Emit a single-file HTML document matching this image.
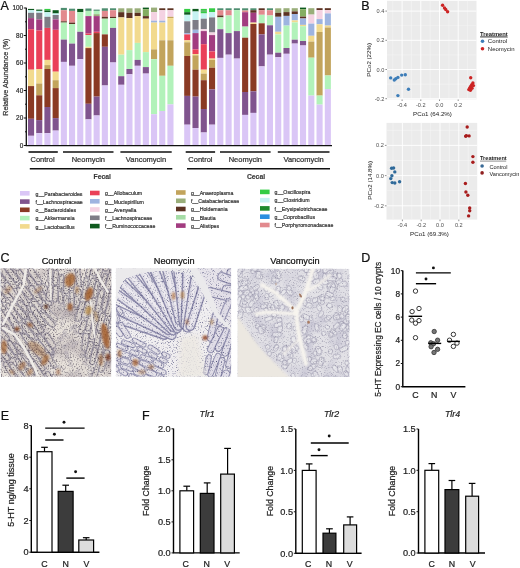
<!DOCTYPE html>
<html><head><meta charset="utf-8"><style>
html,body{margin:0;padding:0;background:#fff;}
svg{display:block;font-family:'Liberation Sans', Arial, sans-serif;}
</style></head><body>
<svg width="520" height="568" viewBox="0 0 520 568">
<rect width="520" height="568" fill="#fff"/>
<g id="panelA">
<rect x="28.00" y="8.90" width="6.1" height="1.30" fill="#0e5a1e"/>
<rect x="28.00" y="10.20" width="6.1" height="2.60" fill="#c6f2f2"/>
<rect x="28.00" y="12.80" width="6.1" height="5.30" fill="#7e7c86"/>
<rect x="28.00" y="18.10" width="6.1" height="11.10" fill="#a23c80"/>
<rect x="28.00" y="29.20" width="6.1" height="40.50" fill="#ea4058"/>
<rect x="28.00" y="69.70" width="6.1" height="16.40" fill="#f2da8e"/>
<rect x="28.00" y="86.10" width="6.1" height="32.70" fill="#8a3a24"/>
<rect x="28.00" y="118.80" width="6.1" height="17.00" fill="#80548e"/>
<rect x="28.00" y="135.80" width="6.1" height="9.20" fill="#dac6f6"/>
<rect x="36.20" y="9.60" width="6.1" height="1.30" fill="#0e5a1e"/>
<rect x="36.20" y="10.90" width="6.1" height="1.90" fill="#c6f2f2"/>
<rect x="36.20" y="12.80" width="6.1" height="6.60" fill="#7e7c86"/>
<rect x="36.20" y="19.40" width="6.1" height="11.10" fill="#a23c80"/>
<rect x="36.20" y="30.50" width="6.1" height="38.50" fill="#ea4058"/>
<rect x="36.20" y="69.00" width="6.1" height="14.50" fill="#f2da8e"/>
<rect x="36.20" y="83.50" width="6.1" height="11.80" fill="#c2a45c"/>
<rect x="36.20" y="95.30" width="6.1" height="24.80" fill="#8a3a24"/>
<rect x="36.20" y="120.10" width="6.1" height="13.10" fill="#80548e"/>
<rect x="36.20" y="133.20" width="6.1" height="11.80" fill="#dac6f6"/>
<rect x="44.40" y="8.90" width="6.1" height="1.60" fill="#34cc44"/>
<rect x="44.40" y="10.50" width="6.1" height="1.70" fill="#0e5a1e"/>
<rect x="44.40" y="12.20" width="6.1" height="4.60" fill="#c6f2f2"/>
<rect x="44.40" y="16.80" width="6.1" height="11.10" fill="#7e7c86"/>
<rect x="44.40" y="27.90" width="6.1" height="32.00" fill="#ea4058"/>
<rect x="44.40" y="59.90" width="6.1" height="5.20" fill="#f2da8e"/>
<rect x="44.40" y="65.10" width="6.1" height="3.90" fill="#c2a45c"/>
<rect x="44.40" y="69.00" width="6.1" height="38.00" fill="#8a3a24"/>
<rect x="44.40" y="107.00" width="6.1" height="26.20" fill="#80548e"/>
<rect x="44.40" y="133.20" width="6.1" height="11.80" fill="#dac6f6"/>
<rect x="52.60" y="10.20" width="6.1" height="3.30" fill="#0e5a1e"/>
<rect x="52.60" y="13.50" width="6.1" height="1.50" fill="#c6f2f2"/>
<rect x="52.60" y="15.00" width="6.1" height="4.40" fill="#7e7c86"/>
<rect x="52.60" y="19.40" width="6.1" height="10.40" fill="#a23c80"/>
<rect x="52.60" y="29.80" width="6.1" height="41.90" fill="#ea4058"/>
<rect x="52.60" y="71.70" width="6.1" height="8.50" fill="#f2da8e"/>
<rect x="52.60" y="80.20" width="6.1" height="7.90" fill="#c2a45c"/>
<rect x="52.60" y="88.10" width="6.1" height="30.00" fill="#8a3a24"/>
<rect x="52.60" y="118.10" width="6.1" height="12.50" fill="#80548e"/>
<rect x="52.60" y="130.60" width="6.1" height="14.40" fill="#dac6f6"/>
<rect x="60.80" y="7.90" width="6.1" height="2.30" fill="#4e8e70"/>
<rect x="60.80" y="10.20" width="6.1" height="11.10" fill="#e28a8e"/>
<rect x="60.80" y="21.30" width="6.1" height="1.30" fill="#5c3222"/>
<rect x="60.80" y="22.60" width="6.1" height="17.00" fill="#b2f2ba"/>
<rect x="60.80" y="39.60" width="6.1" height="22.30" fill="#80548e"/>
<rect x="60.80" y="61.90" width="6.1" height="83.10" fill="#dac6f6"/>
<rect x="69.00" y="8.70" width="6.1" height="2.20" fill="#4e8e70"/>
<rect x="69.00" y="10.90" width="6.1" height="11.70" fill="#e28a8e"/>
<rect x="69.00" y="22.60" width="6.1" height="1.40" fill="#5c3222"/>
<rect x="69.00" y="24.00" width="6.1" height="19.60" fill="#b2f2ba"/>
<rect x="69.00" y="43.60" width="6.1" height="22.20" fill="#80548e"/>
<rect x="69.00" y="65.80" width="6.1" height="79.20" fill="#dac6f6"/>
<rect x="77.20" y="8.90" width="6.1" height="3.30" fill="#0e5a1e"/>
<rect x="77.20" y="12.20" width="6.1" height="19.60" fill="#b2f2ba"/>
<rect x="77.20" y="31.80" width="6.1" height="27.40" fill="#80548e"/>
<rect x="77.20" y="59.20" width="6.1" height="85.80" fill="#dac6f6"/>
<rect x="85.40" y="8.50" width="6.1" height="2.40" fill="#4e8e70"/>
<rect x="85.40" y="10.90" width="6.1" height="5.20" fill="#b2f2ba"/>
<rect x="85.40" y="16.10" width="6.1" height="17.40" fill="#a23c80"/>
<rect x="85.40" y="33.50" width="6.1" height="1.60" fill="#ea4058"/>
<rect x="85.40" y="35.10" width="6.1" height="11.70" fill="#b2f2ba"/>
<rect x="85.40" y="46.80" width="6.1" height="1.30" fill="#f2da8e"/>
<rect x="85.40" y="48.10" width="6.1" height="55.70" fill="#8a3a24"/>
<rect x="85.40" y="103.80" width="6.1" height="15.60" fill="#80548e"/>
<rect x="85.40" y="119.40" width="6.1" height="25.60" fill="#dac6f6"/>
<rect x="93.60" y="9.60" width="6.1" height="1.30" fill="#4e8e70"/>
<rect x="93.60" y="10.90" width="6.1" height="3.30" fill="#b2f2ba"/>
<rect x="93.60" y="14.20" width="6.1" height="1.90" fill="#9aae7a"/>
<rect x="93.60" y="16.10" width="6.1" height="15.70" fill="#a23c80"/>
<rect x="93.60" y="31.80" width="6.1" height="1.30" fill="#ea4058"/>
<rect x="93.60" y="33.10" width="6.1" height="63.50" fill="#8a3a24"/>
<rect x="93.60" y="96.60" width="6.1" height="18.90" fill="#80548e"/>
<rect x="93.60" y="115.50" width="6.1" height="29.50" fill="#dac6f6"/>
<rect x="101.80" y="8.30" width="6.1" height="2.60" fill="#4e8e70"/>
<rect x="101.80" y="10.90" width="6.1" height="5.90" fill="#e28a8e"/>
<rect x="101.80" y="16.80" width="6.1" height="1.90" fill="#5c3222"/>
<rect x="101.80" y="18.70" width="6.1" height="15.70" fill="#b2f2ba"/>
<rect x="101.80" y="34.40" width="6.1" height="12.40" fill="#8a3a24"/>
<rect x="101.80" y="46.80" width="6.1" height="38.70" fill="#80548e"/>
<rect x="101.80" y="85.50" width="6.1" height="59.50" fill="#dac6f6"/>
<rect x="110.00" y="8.30" width="6.1" height="1.90" fill="#4e8e70"/>
<rect x="110.00" y="10.20" width="6.1" height="6.60" fill="#e28a8e"/>
<rect x="110.00" y="16.80" width="6.1" height="1.30" fill="#5c3222"/>
<rect x="110.00" y="18.10" width="6.1" height="9.80" fill="#b2f2ba"/>
<rect x="110.00" y="27.90" width="6.1" height="34.60" fill="#80548e"/>
<rect x="110.00" y="62.50" width="6.1" height="82.50" fill="#dac6f6"/>
<rect x="118.20" y="8.30" width="6.1" height="3.90" fill="#9aae7a"/>
<rect x="118.20" y="12.20" width="6.1" height="5.20" fill="#5c3222"/>
<rect x="118.20" y="17.40" width="6.1" height="37.30" fill="#f2da8e"/>
<rect x="118.20" y="54.70" width="6.1" height="21.50" fill="#b2f2ba"/>
<rect x="118.20" y="76.20" width="6.1" height="8.60" fill="#80548e"/>
<rect x="118.20" y="84.80" width="6.1" height="60.20" fill="#dac6f6"/>
<rect x="126.40" y="8.30" width="6.1" height="4.50" fill="#9aae7a"/>
<rect x="126.40" y="12.80" width="6.1" height="5.30" fill="#5c3222"/>
<rect x="126.40" y="18.10" width="6.1" height="32.00" fill="#f2da8e"/>
<rect x="126.40" y="50.10" width="6.1" height="18.90" fill="#b2f2ba"/>
<rect x="126.40" y="69.00" width="6.1" height="5.30" fill="#80548e"/>
<rect x="126.40" y="74.30" width="6.1" height="70.70" fill="#dac6f6"/>
<rect x="134.60" y="8.30" width="6.1" height="4.50" fill="#9aae7a"/>
<rect x="134.60" y="12.80" width="6.1" height="3.30" fill="#5c3222"/>
<rect x="134.60" y="16.10" width="6.1" height="26.80" fill="#f2da8e"/>
<rect x="134.60" y="42.90" width="6.1" height="17.00" fill="#b2f2ba"/>
<rect x="134.60" y="59.90" width="6.1" height="5.90" fill="#80548e"/>
<rect x="134.60" y="65.80" width="6.1" height="79.20" fill="#dac6f6"/>
<rect x="142.80" y="7.60" width="6.1" height="1.60" fill="#0e5a1e"/>
<rect x="142.80" y="9.20" width="6.1" height="6.90" fill="#84ae62"/>
<rect x="142.80" y="16.10" width="6.1" height="2.60" fill="#5c3222"/>
<rect x="142.80" y="18.70" width="6.1" height="33.40" fill="#f2da8e"/>
<rect x="142.80" y="52.10" width="6.1" height="15.00" fill="#b2f2ba"/>
<rect x="142.80" y="67.10" width="6.1" height="6.50" fill="#80548e"/>
<rect x="142.80" y="73.60" width="6.1" height="71.40" fill="#dac6f6"/>
<rect x="151.00" y="7.60" width="6.1" height="4.60" fill="#9aae7a"/>
<rect x="151.00" y="12.20" width="6.1" height="8.50" fill="#f4d2e2"/>
<rect x="151.00" y="20.70" width="6.1" height="1.90" fill="#9eb4e0"/>
<rect x="151.00" y="22.60" width="6.1" height="26.80" fill="#f2da8e"/>
<rect x="151.00" y="49.40" width="6.1" height="9.80" fill="#c2a45c"/>
<rect x="151.00" y="59.20" width="6.1" height="55.00" fill="#b2f2ba"/>
<rect x="151.00" y="114.20" width="6.1" height="30.80" fill="#dac6f6"/>
<rect x="159.20" y="8.30" width="6.1" height="1.90" fill="#5c3222"/>
<rect x="159.20" y="10.20" width="6.1" height="10.50" fill="#f4d2e2"/>
<rect x="159.20" y="20.70" width="6.1" height="1.90" fill="#9eb4e0"/>
<rect x="159.20" y="22.60" width="6.1" height="17.70" fill="#f2da8e"/>
<rect x="159.20" y="40.30" width="6.1" height="35.50" fill="#c2a45c"/>
<rect x="159.20" y="75.80" width="6.1" height="35.20" fill="#b2f2ba"/>
<rect x="159.20" y="111.00" width="6.1" height="34.00" fill="#dac6f6"/>
<rect x="167.40" y="8.30" width="6.1" height="1.90" fill="#5c3222"/>
<rect x="167.40" y="10.20" width="6.1" height="6.60" fill="#f4d2e2"/>
<rect x="167.40" y="16.80" width="6.1" height="1.30" fill="#c2a45c"/>
<rect x="167.40" y="18.10" width="6.1" height="22.20" fill="#f2da8e"/>
<rect x="167.40" y="40.30" width="6.1" height="25.50" fill="#c2a45c"/>
<rect x="167.40" y="65.80" width="6.1" height="38.60" fill="#b2f2ba"/>
<rect x="167.40" y="104.40" width="6.1" height="40.60" fill="#dac6f6"/>
<rect x="184.20" y="8.90" width="6.1" height="3.30" fill="#34cc44"/>
<rect x="184.20" y="12.20" width="6.1" height="2.60" fill="#0e5a1e"/>
<rect x="184.20" y="14.80" width="6.1" height="6.50" fill="#c6f2f2"/>
<rect x="184.20" y="21.30" width="6.1" height="11.80" fill="#7e7c86"/>
<rect x="184.20" y="33.10" width="6.1" height="1.30" fill="#9eb4e0"/>
<rect x="184.20" y="34.40" width="6.1" height="5.90" fill="#ea4058"/>
<rect x="184.20" y="40.30" width="6.1" height="2.00" fill="#f2da8e"/>
<rect x="184.20" y="42.30" width="6.1" height="13.70" fill="#c2a45c"/>
<rect x="184.20" y="56.00" width="6.1" height="39.90" fill="#8a3a24"/>
<rect x="184.20" y="95.90" width="6.1" height="28.80" fill="#80548e"/>
<rect x="184.20" y="124.70" width="6.1" height="20.30" fill="#dac6f6"/>
<rect x="192.47" y="8.90" width="6.1" height="2.60" fill="#0e5a1e"/>
<rect x="192.47" y="11.50" width="6.1" height="8.50" fill="#c6f2f2"/>
<rect x="192.47" y="20.00" width="6.1" height="9.80" fill="#7e7c86"/>
<rect x="192.47" y="29.80" width="6.1" height="3.30" fill="#9eb4e0"/>
<rect x="192.47" y="33.10" width="6.1" height="16.30" fill="#a23c80"/>
<rect x="192.47" y="49.40" width="6.1" height="4.60" fill="#ea4058"/>
<rect x="192.47" y="54.00" width="6.1" height="1.30" fill="#f2da8e"/>
<rect x="192.47" y="55.30" width="6.1" height="14.40" fill="#c2a45c"/>
<rect x="192.47" y="69.70" width="6.1" height="26.90" fill="#8a3a24"/>
<rect x="192.47" y="96.60" width="6.1" height="31.40" fill="#80548e"/>
<rect x="192.47" y="128.00" width="6.1" height="17.00" fill="#dac6f6"/>
<rect x="200.74" y="8.90" width="6.1" height="1.70" fill="#34cc44"/>
<rect x="200.74" y="10.60" width="6.1" height="1.00" fill="#1e8a2c"/>
<rect x="200.74" y="11.60" width="6.1" height="1.90" fill="#34cc44"/>
<rect x="200.74" y="13.50" width="6.1" height="5.20" fill="#c6f2f2"/>
<rect x="200.74" y="18.70" width="6.1" height="10.50" fill="#7e7c86"/>
<rect x="200.74" y="29.20" width="6.1" height="1.90" fill="#f4d2e2"/>
<rect x="200.74" y="31.10" width="6.1" height="13.10" fill="#a23c80"/>
<rect x="200.74" y="44.20" width="6.1" height="25.50" fill="#ea4058"/>
<rect x="200.74" y="69.70" width="6.1" height="3.90" fill="#f2da8e"/>
<rect x="200.74" y="73.60" width="6.1" height="6.60" fill="#c2a45c"/>
<rect x="200.74" y="80.20" width="6.1" height="28.80" fill="#8a3a24"/>
<rect x="200.74" y="109.00" width="6.1" height="23.50" fill="#80548e"/>
<rect x="200.74" y="132.50" width="6.1" height="12.50" fill="#dac6f6"/>
<rect x="209.01" y="8.30" width="6.1" height="3.90" fill="#34cc44"/>
<rect x="209.01" y="12.20" width="6.1" height="5.20" fill="#c6f2f2"/>
<rect x="209.01" y="17.40" width="6.1" height="15.10" fill="#7e7c86"/>
<rect x="209.01" y="32.50" width="6.1" height="2.60" fill="#f4d2e2"/>
<rect x="209.01" y="35.10" width="6.1" height="16.30" fill="#a23c80"/>
<rect x="209.01" y="51.40" width="6.1" height="7.20" fill="#ea4058"/>
<rect x="209.01" y="58.60" width="6.1" height="1.30" fill="#f2da8e"/>
<rect x="209.01" y="59.90" width="6.1" height="7.80" fill="#c2a45c"/>
<rect x="209.01" y="67.70" width="6.1" height="21.70" fill="#8a3a24"/>
<rect x="209.01" y="89.40" width="6.1" height="35.30" fill="#80548e"/>
<rect x="209.01" y="124.70" width="6.1" height="20.30" fill="#dac6f6"/>
<rect x="217.28" y="8.30" width="6.1" height="1.90" fill="#4e8e70"/>
<rect x="217.28" y="10.20" width="6.1" height="5.30" fill="#e28a8e"/>
<rect x="217.28" y="15.50" width="6.1" height="1.90" fill="#5c3222"/>
<rect x="217.28" y="17.40" width="6.1" height="11.80" fill="#b2f2ba"/>
<rect x="217.28" y="29.20" width="6.1" height="28.70" fill="#80548e"/>
<rect x="217.28" y="57.90" width="6.1" height="87.10" fill="#dac6f6"/>
<rect x="225.55" y="8.30" width="6.1" height="1.90" fill="#4e8e70"/>
<rect x="225.55" y="10.20" width="6.1" height="5.30" fill="#e28a8e"/>
<rect x="225.55" y="15.50" width="6.1" height="17.60" fill="#b2f2ba"/>
<rect x="225.55" y="33.10" width="6.1" height="21.60" fill="#80548e"/>
<rect x="225.55" y="54.70" width="6.1" height="90.30" fill="#dac6f6"/>
<rect x="233.82" y="8.30" width="6.1" height="1.90" fill="#4e8e70"/>
<rect x="233.82" y="10.20" width="6.1" height="20.90" fill="#b2f2ba"/>
<rect x="233.82" y="31.10" width="6.1" height="27.50" fill="#80548e"/>
<rect x="233.82" y="58.60" width="6.1" height="86.40" fill="#dac6f6"/>
<rect x="242.09" y="8.30" width="6.1" height="2.20" fill="#4e8e70"/>
<rect x="242.09" y="10.50" width="6.1" height="1.70" fill="#e28a8e"/>
<rect x="242.09" y="12.20" width="6.1" height="14.40" fill="#a23c80"/>
<rect x="242.09" y="26.60" width="6.1" height="11.10" fill="#b2f2ba"/>
<rect x="242.09" y="37.70" width="6.1" height="54.30" fill="#8a3a24"/>
<rect x="242.09" y="92.00" width="6.1" height="22.90" fill="#80548e"/>
<rect x="242.09" y="114.90" width="6.1" height="30.10" fill="#dac6f6"/>
<rect x="250.36" y="8.30" width="6.1" height="1.90" fill="#4e8e70"/>
<rect x="250.36" y="10.20" width="6.1" height="2.60" fill="#5c3222"/>
<rect x="250.36" y="12.80" width="6.1" height="9.80" fill="#a23c80"/>
<rect x="250.36" y="22.60" width="6.1" height="1.40" fill="#f2da8e"/>
<rect x="250.36" y="24.00" width="6.1" height="67.30" fill="#8a3a24"/>
<rect x="250.36" y="91.30" width="6.1" height="21.60" fill="#80548e"/>
<rect x="250.36" y="112.90" width="6.1" height="32.10" fill="#dac6f6"/>
<rect x="258.63" y="8.30" width="6.1" height="1.90" fill="#5c3222"/>
<rect x="258.63" y="10.20" width="6.1" height="4.60" fill="#e28a8e"/>
<rect x="258.63" y="14.80" width="6.1" height="8.50" fill="#b2f2ba"/>
<rect x="258.63" y="23.30" width="6.1" height="11.10" fill="#8a3a24"/>
<rect x="258.63" y="34.40" width="6.1" height="32.00" fill="#80548e"/>
<rect x="258.63" y="66.40" width="6.1" height="78.60" fill="#dac6f6"/>
<rect x="266.90" y="8.30" width="6.1" height="1.90" fill="#4e8e70"/>
<rect x="266.90" y="10.20" width="6.1" height="5.30" fill="#e28a8e"/>
<rect x="266.90" y="15.50" width="6.1" height="9.80" fill="#b2f2ba"/>
<rect x="266.90" y="25.30" width="6.1" height="29.40" fill="#80548e"/>
<rect x="266.90" y="54.70" width="6.1" height="90.30" fill="#dac6f6"/>
<rect x="275.17" y="8.30" width="6.1" height="4.50" fill="#9aae7a"/>
<rect x="275.17" y="12.80" width="6.1" height="4.00" fill="#5c3222"/>
<rect x="275.17" y="16.80" width="6.1" height="15.00" fill="#9eb4e0"/>
<rect x="275.17" y="31.80" width="6.1" height="2.60" fill="#f2da8e"/>
<rect x="275.17" y="34.40" width="6.1" height="18.30" fill="#b2f2ba"/>
<rect x="275.17" y="52.70" width="6.1" height="4.60" fill="#80548e"/>
<rect x="275.17" y="57.30" width="6.1" height="87.70" fill="#dac6f6"/>
<rect x="283.44" y="8.20" width="6.1" height="3.90" fill="#9aae7a"/>
<rect x="283.44" y="12.10" width="6.1" height="3.80" fill="#5c3222"/>
<rect x="283.44" y="15.90" width="6.1" height="9.70" fill="#9eb4e0"/>
<rect x="283.44" y="25.60" width="6.1" height="22.40" fill="#b2f2ba"/>
<rect x="283.44" y="48.00" width="6.1" height="5.80" fill="#80548e"/>
<rect x="283.44" y="53.80" width="6.1" height="91.20" fill="#dac6f6"/>
<rect x="291.71" y="8.20" width="6.1" height="3.20" fill="#9aae7a"/>
<rect x="291.71" y="11.40" width="6.1" height="2.60" fill="#5c3222"/>
<rect x="291.71" y="14.00" width="6.1" height="6.40" fill="#9eb4e0"/>
<rect x="291.71" y="20.40" width="6.1" height="2.00" fill="#f2da8e"/>
<rect x="291.71" y="22.40" width="6.1" height="17.30" fill="#b2f2ba"/>
<rect x="291.71" y="39.70" width="6.1" height="3.90" fill="#80548e"/>
<rect x="291.71" y="43.60" width="6.1" height="101.40" fill="#dac6f6"/>
<rect x="299.98" y="7.60" width="6.1" height="1.60" fill="#0e5a1e"/>
<rect x="299.98" y="9.20" width="6.1" height="7.40" fill="#84ae62"/>
<rect x="299.98" y="16.60" width="6.1" height="1.90" fill="#5c3222"/>
<rect x="299.98" y="18.50" width="6.1" height="6.40" fill="#9eb4e0"/>
<rect x="299.98" y="24.90" width="6.1" height="1.30" fill="#f2da8e"/>
<rect x="299.98" y="26.20" width="6.1" height="14.80" fill="#b2f2ba"/>
<rect x="299.98" y="41.00" width="6.1" height="4.50" fill="#80548e"/>
<rect x="299.98" y="45.50" width="6.1" height="99.50" fill="#dac6f6"/>
<rect x="308.25" y="8.20" width="6.1" height="6.40" fill="#9aae7a"/>
<rect x="308.25" y="14.60" width="6.1" height="9.00" fill="#f4d2e2"/>
<rect x="308.25" y="23.60" width="6.1" height="12.20" fill="#9eb4e0"/>
<rect x="308.25" y="35.80" width="6.1" height="5.80" fill="#f2da8e"/>
<rect x="308.25" y="41.60" width="6.1" height="16.10" fill="#c2a45c"/>
<rect x="308.25" y="57.70" width="6.1" height="37.90" fill="#b2f2ba"/>
<rect x="308.25" y="95.60" width="6.1" height="49.40" fill="#dac6f6"/>
<rect x="316.52" y="8.20" width="6.1" height="1.90" fill="#5c3222"/>
<rect x="316.52" y="10.10" width="6.1" height="9.00" fill="#f4d2e2"/>
<rect x="316.52" y="19.10" width="6.1" height="5.20" fill="#9eb4e0"/>
<rect x="316.52" y="24.30" width="6.1" height="7.70" fill="#f2da8e"/>
<rect x="316.52" y="32.00" width="6.1" height="63.60" fill="#c2a45c"/>
<rect x="316.52" y="95.60" width="6.1" height="9.00" fill="#b2f2ba"/>
<rect x="316.52" y="104.60" width="6.1" height="40.40" fill="#dac6f6"/>
<rect x="324.79" y="8.20" width="6.1" height="1.90" fill="#5c3222"/>
<rect x="324.79" y="10.10" width="6.1" height="3.30" fill="#f4d2e2"/>
<rect x="324.79" y="13.40" width="6.1" height="12.20" fill="#9eb4e0"/>
<rect x="324.79" y="25.60" width="6.1" height="1.90" fill="#f2da8e"/>
<rect x="324.79" y="27.50" width="6.1" height="48.00" fill="#c2a45c"/>
<rect x="324.79" y="75.50" width="6.1" height="13.60" fill="#b2f2ba"/>
<rect x="324.79" y="89.10" width="6.1" height="55.90" fill="#dac6f6"/>
<path d="M26.3 7.8 V145.6 H332" fill="none" stroke="#111" stroke-width="1.3"/>
<line x1="23.8" y1="145.5" x2="26.3" y2="145.5" stroke="#111" stroke-width="1"/>
<text x="23.2" y="147.7" font-size="6.4" text-anchor="end" fill="#333" stroke="#333" stroke-width="0.22">0</text>
<line x1="23.8" y1="118.0" x2="26.3" y2="118.0" stroke="#111" stroke-width="1"/>
<text x="23.2" y="120.2" font-size="6.4" text-anchor="end" fill="#333" stroke="#333" stroke-width="0.22">20</text>
<line x1="23.8" y1="90.5" x2="26.3" y2="90.5" stroke="#111" stroke-width="1"/>
<text x="23.2" y="92.7" font-size="6.4" text-anchor="end" fill="#333" stroke="#333" stroke-width="0.22">40</text>
<line x1="23.8" y1="63.0" x2="26.3" y2="63.0" stroke="#111" stroke-width="1"/>
<text x="23.2" y="65.2" font-size="6.4" text-anchor="end" fill="#333" stroke="#333" stroke-width="0.22">60</text>
<line x1="23.8" y1="35.5" x2="26.3" y2="35.5" stroke="#111" stroke-width="1"/>
<text x="23.2" y="37.7" font-size="6.4" text-anchor="end" fill="#333" stroke="#333" stroke-width="0.22">80</text>
<line x1="23.8" y1="8.0" x2="26.3" y2="8.0" stroke="#111" stroke-width="1"/>
<text x="23.2" y="10.2" font-size="6.4" text-anchor="end" fill="#333" stroke="#333" stroke-width="0.22">100</text>
<line x1="25" y1="131.8" x2="26.3" y2="131.8" stroke="#111" stroke-width="1"/>
<line x1="25" y1="104.2" x2="26.3" y2="104.2" stroke="#111" stroke-width="1"/>
<line x1="25" y1="76.8" x2="26.3" y2="76.8" stroke="#111" stroke-width="1"/>
<line x1="25" y1="49.2" x2="26.3" y2="49.2" stroke="#111" stroke-width="1"/>
<line x1="25" y1="21.8" x2="26.3" y2="21.8" stroke="#111" stroke-width="1"/>
<text transform="translate(7.8 77.1) rotate(-90)" font-size="7.2" text-anchor="middle" fill="#333" stroke="#333" stroke-width="0.22">Relative Abundance (%)</text>
<line x1="28.5" y1="152" x2="57.8" y2="152" stroke="#111" stroke-width="1.6"/>
<text x="42.6" y="162.4" font-size="7.5" text-anchor="middle" fill="#333" stroke="#333" stroke-width="0.22">Control</text>
<line x1="63" y1="152" x2="113.5" y2="152" stroke="#111" stroke-width="1.6"/>
<text x="88.3" y="162.4" font-size="7.5" text-anchor="middle" fill="#333" stroke="#333" stroke-width="0.22">Neomycin</text>
<line x1="120.4" y1="152" x2="171.7" y2="152" stroke="#111" stroke-width="1.6"/>
<text x="146" y="162.4" font-size="7.5" text-anchor="middle" fill="#333" stroke="#333" stroke-width="0.22">Vancomycin</text>
<line x1="185.7" y1="152" x2="215.1" y2="152" stroke="#111" stroke-width="1.6"/>
<text x="200.4" y="162.4" font-size="7.5" text-anchor="middle" fill="#333" stroke="#333" stroke-width="0.22">Control</text>
<line x1="220" y1="152" x2="270.6" y2="152" stroke="#111" stroke-width="1.6"/>
<text x="245.3" y="162.4" font-size="7.5" text-anchor="middle" fill="#333" stroke="#333" stroke-width="0.22">Neomycin</text>
<line x1="277.8" y1="152" x2="329.5" y2="152" stroke="#111" stroke-width="1.6"/>
<text x="303.6" y="162.4" font-size="7.5" text-anchor="middle" fill="#333" stroke="#333" stroke-width="0.22">Vancomycin</text>
<line x1="29.8" y1="168.8" x2="172.3" y2="168.8" stroke="#111" stroke-width="1.6"/>
<line x1="187" y1="168.8" x2="330" y2="168.8" stroke="#111" stroke-width="1.6"/>
<text x="102.3" y="178.6" font-size="6.8" font-weight="bold" text-anchor="middle" fill="#3a3a3a" stroke="#3a3a3a" stroke-width="0.15">Fecal</text>
<text x="256" y="178.8" font-size="6.8" font-weight="bold" text-anchor="middle" fill="#3a3a3a" stroke="#3a3a3a" stroke-width="0.15">Cecal</text>
<text x="0.6" y="10" font-size="12.5" fill="#111" stroke="#111" stroke-width="0.22">A</text>
<rect x="20.0" y="191.0" width="9.6" height="4.6" fill="#dac6f6"/>
<text transform="translate(35.6 195.5) scale(0.86 1)" font-size="6.1" fill="#333" stroke="#333" stroke-width="0.22">g__Parabacteroides</text>
<rect x="20.0" y="199.3" width="9.6" height="4.6" fill="#80548e"/>
<text transform="translate(35.6 203.8) scale(0.86 1)" font-size="6.1" fill="#333" stroke="#333" stroke-width="0.22">f__Lachnospiraceae</text>
<rect x="20.0" y="207.5" width="9.6" height="4.6" fill="#8a3a24"/>
<text transform="translate(35.6 212.0) scale(0.86 1)" font-size="6.1" fill="#333" stroke="#333" stroke-width="0.22">o__Bacteroidales</text>
<rect x="20.0" y="215.8" width="9.6" height="4.6" fill="#b2f2ba"/>
<text transform="translate(35.6 220.3) scale(0.86 1)" font-size="6.1" fill="#333" stroke="#333" stroke-width="0.22">g__Akkermansia</text>
<rect x="20.0" y="224.1" width="9.6" height="4.6" fill="#f2da8e"/>
<text transform="translate(35.6 228.6) scale(0.86 1)" font-size="6.1" fill="#333" stroke="#333" stroke-width="0.22">g__Lactobacillus</text>
<rect x="90.0" y="190.7" width="9.6" height="4.6" fill="#ea4058"/>
<text transform="translate(105 195.2) scale(0.86 1)" font-size="6.1" fill="#333" stroke="#333" stroke-width="0.22">g__Allobaculum</text>
<rect x="90.0" y="199.0" width="9.6" height="4.6" fill="#9eb4e0"/>
<text transform="translate(105 203.5) scale(0.86 1)" font-size="6.1" fill="#333" stroke="#333" stroke-width="0.22">g__Mucispirillum</text>
<rect x="90.0" y="207.2" width="9.6" height="4.6" fill="#f4d2e2"/>
<text transform="translate(105 211.7) scale(0.86 1)" font-size="6.1" fill="#333" stroke="#333" stroke-width="0.22">g__Avenyella</text>
<rect x="90.0" y="215.5" width="9.6" height="4.6" fill="#7e7c86"/>
<text transform="translate(105 220.0) scale(0.86 1)" font-size="6.1" fill="#333" stroke="#333" stroke-width="0.22">f__Lachnospiraceae</text>
<rect x="90.0" y="223.8" width="9.6" height="4.6" fill="#0e5a1e"/>
<text transform="translate(105 228.3) scale(0.86 1)" font-size="6.1" fill="#333" stroke="#333" stroke-width="0.22">f__Ruminococcaceae</text>
<rect x="176.0" y="190.2" width="9.6" height="4.6" fill="#c2a45c"/>
<text transform="translate(190.9 194.7) scale(0.86 1)" font-size="6.1" fill="#333" stroke="#333" stroke-width="0.22">g__Anaeroplasma</text>
<rect x="176.0" y="198.5" width="9.6" height="4.6" fill="#9aae7a"/>
<text transform="translate(190.9 203.0) scale(0.86 1)" font-size="6.1" fill="#333" stroke="#333" stroke-width="0.22">f__Catabacteriaceae</text>
<rect x="176.0" y="206.7" width="9.6" height="4.6" fill="#5c3222"/>
<text transform="translate(190.9 211.2) scale(0.86 1)" font-size="6.1" fill="#333" stroke="#333" stroke-width="0.22">g__Holdemania</text>
<rect x="176.0" y="215.0" width="9.6" height="4.6" fill="#a6dca6"/>
<text transform="translate(190.9 219.5) scale(0.86 1)" font-size="6.1" fill="#333" stroke="#333" stroke-width="0.22">g__Blautia</text>
<rect x="176.0" y="223.3" width="9.6" height="4.6" fill="#a23c80"/>
<text transform="translate(190.9 227.8) scale(0.86 1)" font-size="6.1" fill="#333" stroke="#333" stroke-width="0.22">g__Alistipes</text>
<rect x="260.0" y="189.6" width="9.6" height="4.6" fill="#34cc44"/>
<text transform="translate(274.6 194.1) scale(0.86 1)" font-size="6.1" fill="#333" stroke="#333" stroke-width="0.22">g__Oscillospira</text>
<rect x="260.0" y="197.9" width="9.6" height="4.6" fill="#c6f2f2"/>
<text transform="translate(274.6 202.4) scale(0.86 1)" font-size="6.1" fill="#333" stroke="#333" stroke-width="0.22">g__Clostridium</text>
<rect x="260.0" y="206.1" width="9.6" height="4.6" fill="#1e8a2c"/>
<text transform="translate(274.6 210.6) scale(0.86 1)" font-size="6.1" fill="#333" stroke="#333" stroke-width="0.22">f__Erysipelotrichaceae</text>
<rect x="260.0" y="214.4" width="9.6" height="4.6" fill="#2a8ee0"/>
<text transform="translate(274.6 218.9) scale(0.86 1)" font-size="6.1" fill="#333" stroke="#333" stroke-width="0.22">g__Coprobacillus</text>
<rect x="260.0" y="222.7" width="9.6" height="4.6" fill="#e28a8e"/>
<text transform="translate(274.6 227.2) scale(0.86 1)" font-size="6.1" fill="#333" stroke="#333" stroke-width="0.22">f__Porphyromonadaceae</text>
</g>
<rect x="387.0" y="0.8" width="89.5" height="98.60000000000001" fill="#ebebeb"/>
<line x1="392.8" y1="0.8" x2="392.8" y2="99.4" stroke="#f6f6f6" stroke-width="0.5"/>
<line x1="411.4" y1="0.8" x2="411.4" y2="99.4" stroke="#f6f6f6" stroke-width="0.5"/>
<line x1="430.1" y1="0.8" x2="430.1" y2="99.4" stroke="#f6f6f6" stroke-width="0.5"/>
<line x1="448.9" y1="0.8" x2="448.9" y2="99.4" stroke="#f6f6f6" stroke-width="0.5"/>
<line x1="467.6" y1="0.8" x2="467.6" y2="99.4" stroke="#f6f6f6" stroke-width="0.5"/>
<line x1="387.0" y1="84.1" x2="476.5" y2="84.1" stroke="#f6f6f6" stroke-width="0.5"/>
<line x1="387.0" y1="54.9" x2="476.5" y2="54.9" stroke="#f6f6f6" stroke-width="0.5"/>
<line x1="387.0" y1="25.7" x2="476.5" y2="25.7" stroke="#f6f6f6" stroke-width="0.5"/>
<line x1="402.1" y1="0.8" x2="402.1" y2="99.4" stroke="#fff" stroke-width="0.9"/>
<line x1="402.1" y1="99.4" x2="402.1" y2="101.0" stroke="#444" stroke-width="0.6"/>
<text class="n" x="402.1" y="106.6" font-size="5.6" text-anchor="middle" fill="#4d4d4d">-0.4</text>
<line x1="420.8" y1="0.8" x2="420.8" y2="99.4" stroke="#fff" stroke-width="0.9"/>
<line x1="420.8" y1="99.4" x2="420.8" y2="101.0" stroke="#444" stroke-width="0.6"/>
<text class="n" x="420.8" y="106.6" font-size="5.6" text-anchor="middle" fill="#4d4d4d">-0.2</text>
<line x1="439.5" y1="0.8" x2="439.5" y2="99.4" stroke="#fff" stroke-width="0.9"/>
<line x1="439.5" y1="99.4" x2="439.5" y2="101.0" stroke="#444" stroke-width="0.6"/>
<text class="n" x="439.5" y="106.6" font-size="5.6" text-anchor="middle" fill="#4d4d4d">0.0</text>
<line x1="458.2" y1="0.8" x2="458.2" y2="99.4" stroke="#fff" stroke-width="0.9"/>
<line x1="458.2" y1="99.4" x2="458.2" y2="101.0" stroke="#444" stroke-width="0.6"/>
<text class="n" x="458.2" y="106.6" font-size="5.6" text-anchor="middle" fill="#4d4d4d">0.2</text>
<line x1="387.0" y1="11.1" x2="476.5" y2="11.1" stroke="#fff" stroke-width="0.9"/>
<line x1="385.4" y1="11.1" x2="387.0" y2="11.1" stroke="#444" stroke-width="0.6"/>
<text class="n" x="384.4" y="13.1" font-size="5.6" text-anchor="end" fill="#4d4d4d">0.4</text>
<line x1="387.0" y1="40.3" x2="476.5" y2="40.3" stroke="#fff" stroke-width="0.9"/>
<line x1="385.4" y1="40.3" x2="387.0" y2="40.3" stroke="#444" stroke-width="0.6"/>
<text class="n" x="384.4" y="42.3" font-size="5.6" text-anchor="end" fill="#4d4d4d">0.2</text>
<line x1="387.0" y1="69.5" x2="476.5" y2="69.5" stroke="#fff" stroke-width="0.9"/>
<line x1="385.4" y1="69.5" x2="387.0" y2="69.5" stroke="#444" stroke-width="0.6"/>
<text class="n" x="384.4" y="71.5" font-size="5.6" text-anchor="end" fill="#4d4d4d">0.0</text>
<line x1="387.0" y1="98.7" x2="476.5" y2="98.7" stroke="#fff" stroke-width="0.9"/>
<line x1="385.4" y1="98.7" x2="387.0" y2="98.7" stroke="#444" stroke-width="0.6"/>
<text class="n" x="384.4" y="100.7" font-size="5.6" text-anchor="end" fill="#4d4d4d">-0.2</text>
<text class="n" x="432.5" y="115.5" font-size="6.2" text-anchor="middle" fill="#222">PCo1 (64.2%)</text>
<text class="n" transform="translate(370.8 59.8) rotate(-90)" font-size="6.2" text-anchor="middle" fill="#222">PCo2 (22%)</text>
<circle cx="390.7" cy="77.9" r="1.7" fill="#3d7db8"/>
<circle cx="394.3" cy="80" r="1.7" fill="#3d7db8"/>
<circle cx="395.8" cy="78.7" r="1.7" fill="#3d7db8"/>
<circle cx="397.9" cy="77.4" r="1.7" fill="#3d7db8"/>
<circle cx="401.7" cy="75.1" r="1.7" fill="#3d7db8"/>
<circle cx="405.3" cy="74.7" r="1.7" fill="#3d7db8"/>
<circle cx="408.5" cy="89.3" r="1.7" fill="#3d7db8"/>
<circle cx="397.9" cy="95.6" r="1.7" fill="#3d7db8"/>
<circle cx="442.6" cy="5.3" r="1.7" fill="#cc2424"/>
<circle cx="444.5" cy="8" r="1.7" fill="#cc2424"/>
<circle cx="445.7" cy="9.5" r="1.7" fill="#cc2424"/>
<circle cx="447.6" cy="11.8" r="1.7" fill="#cc2424"/>
<circle cx="470.7" cy="77.7" r="1.7" fill="#cc2424"/>
<circle cx="472.9" cy="82.9" r="1.7" fill="#cc2424"/>
<circle cx="471.8" cy="84.6" r="1.7" fill="#cc2424"/>
<circle cx="470.8" cy="86.3" r="1.7" fill="#cc2424"/>
<circle cx="469.7" cy="88" r="1.7" fill="#cc2424"/>
<circle cx="468.8" cy="89.6" r="1.7" fill="#cc2424"/>
<circle cx="473.4" cy="85.6" r="1.7" fill="#cc2424"/>
<circle cx="472" cy="88.2" r="1.7" fill="#cc2424"/>
<circle cx="470.4" cy="90.2" r="1.7" fill="#cc2424"/>
<text class="n" x="480.1" y="35.8" font-size="5.8" font-weight="bold" fill="#222" text-decoration="underline">Treatment</text>
<line x1="480.1" y1="36.4" x2="507.3" y2="36.4" stroke="#222" stroke-width="0.5"/>
<circle cx="482.5" cy="41.3" r="1.8" fill="#3d7db8"/>
<text class="n" x="487.8" y="43.4" font-size="6" fill="#222">Control</text>
<circle cx="482.5" cy="48.8" r="1.8" fill="#cc2424"/>
<text class="n" x="487.8" y="50.9" font-size="6" fill="#222">Neomycin</text>
<text x="361.3" y="9.6" font-size="12.5" fill="#111" stroke="#111" stroke-width="0.22">B</text>
<rect x="386.5" y="122.9" width="90.69999999999999" height="96.69999999999999" fill="#ebebeb"/>
<line x1="393.0" y1="122.9" x2="393.0" y2="219.6" stroke="#f6f6f6" stroke-width="0.5"/>
<line x1="411.8" y1="122.9" x2="411.8" y2="219.6" stroke="#f6f6f6" stroke-width="0.5"/>
<line x1="430.6" y1="122.9" x2="430.6" y2="219.6" stroke="#f6f6f6" stroke-width="0.5"/>
<line x1="449.4" y1="122.9" x2="449.4" y2="219.6" stroke="#f6f6f6" stroke-width="0.5"/>
<line x1="468.2" y1="122.9" x2="468.2" y2="219.6" stroke="#f6f6f6" stroke-width="0.5"/>
<line x1="386.5" y1="190.7" x2="477.2" y2="190.7" stroke="#f6f6f6" stroke-width="0.5"/>
<line x1="386.5" y1="160.5" x2="477.2" y2="160.5" stroke="#f6f6f6" stroke-width="0.5"/>
<line x1="386.5" y1="130.3" x2="477.2" y2="130.3" stroke="#f6f6f6" stroke-width="0.5"/>
<line x1="402.4" y1="122.9" x2="402.4" y2="219.6" stroke="#fff" stroke-width="0.9"/>
<line x1="402.4" y1="219.6" x2="402.4" y2="221.2" stroke="#444" stroke-width="0.6"/>
<text class="n" x="402.4" y="227.0" font-size="5.6" text-anchor="middle" fill="#4d4d4d">-0.4</text>
<line x1="421.2" y1="122.9" x2="421.2" y2="219.6" stroke="#fff" stroke-width="0.9"/>
<line x1="421.2" y1="219.6" x2="421.2" y2="221.2" stroke="#444" stroke-width="0.6"/>
<text class="n" x="421.2" y="227.0" font-size="5.6" text-anchor="middle" fill="#4d4d4d">-0.2</text>
<line x1="440.0" y1="122.9" x2="440.0" y2="219.6" stroke="#fff" stroke-width="0.9"/>
<line x1="440.0" y1="219.6" x2="440.0" y2="221.2" stroke="#444" stroke-width="0.6"/>
<text class="n" x="440.0" y="227.0" font-size="5.6" text-anchor="middle" fill="#4d4d4d">0.0</text>
<line x1="458.8" y1="122.9" x2="458.8" y2="219.6" stroke="#fff" stroke-width="0.9"/>
<line x1="458.8" y1="219.6" x2="458.8" y2="221.2" stroke="#444" stroke-width="0.6"/>
<text class="n" x="458.8" y="227.0" font-size="5.6" text-anchor="middle" fill="#4d4d4d">0.2</text>
<line x1="386.5" y1="145.4" x2="477.2" y2="145.4" stroke="#fff" stroke-width="0.9"/>
<line x1="384.9" y1="145.4" x2="386.5" y2="145.4" stroke="#444" stroke-width="0.6"/>
<text class="n" x="383.9" y="147.4" font-size="5.6" text-anchor="end" fill="#4d4d4d">0.2</text>
<line x1="386.5" y1="175.6" x2="477.2" y2="175.6" stroke="#fff" stroke-width="0.9"/>
<line x1="384.9" y1="175.6" x2="386.5" y2="175.6" stroke="#444" stroke-width="0.6"/>
<text class="n" x="383.9" y="177.6" font-size="5.6" text-anchor="end" fill="#4d4d4d">0.0</text>
<line x1="386.5" y1="205.8" x2="477.2" y2="205.8" stroke="#fff" stroke-width="0.9"/>
<line x1="384.9" y1="205.8" x2="386.5" y2="205.8" stroke="#444" stroke-width="0.6"/>
<text class="n" x="383.9" y="207.8" font-size="5.6" text-anchor="end" fill="#4d4d4d">-0.2</text>
<text class="n" x="429.5" y="236.4" font-size="6.2" text-anchor="middle" fill="#222">PCo1 (69.3%)</text>
<text class="n" transform="translate(372.4 180.3) rotate(-90)" font-size="6.2" text-anchor="middle" fill="#222">PCo2 (14.8%)</text>
<circle cx="391.6" cy="168.2" r="1.7" fill="#2f6a9a"/>
<circle cx="393.6" cy="168.0" r="1.7" fill="#2f6a9a"/>
<circle cx="394.8" cy="171.9" r="1.7" fill="#2f6a9a"/>
<circle cx="391.9" cy="175.8" r="1.7" fill="#2f6a9a"/>
<circle cx="390.8" cy="178.6" r="1.7" fill="#2f6a9a"/>
<circle cx="392.2" cy="182.6" r="1.7" fill="#2f6a9a"/>
<circle cx="394.8" cy="183" r="1.7" fill="#2f6a9a"/>
<circle cx="399.6" cy="181.7" r="1.7" fill="#2f6a9a"/>
<circle cx="467.2" cy="127" r="1.7" fill="#a81c1c"/>
<circle cx="465.7" cy="136.3" r="1.7" fill="#a81c1c"/>
<circle cx="466.4" cy="135.6" r="1.7" fill="#a81c1c"/>
<circle cx="469.1" cy="135.9" r="1.7" fill="#a81c1c"/>
<circle cx="472.9" cy="156.6" r="1.7" fill="#a81c1c"/>
<circle cx="472.9" cy="162.3" r="1.7" fill="#a81c1c"/>
<circle cx="465.4" cy="183.5" r="1.7" fill="#a81c1c"/>
<circle cx="465.9" cy="192" r="1.7" fill="#a81c1c"/>
<circle cx="467.8" cy="195.2" r="1.7" fill="#a81c1c"/>
<circle cx="469.7" cy="208" r="1.7" fill="#a81c1c"/>
<circle cx="469.7" cy="210.7" r="1.7" fill="#a81c1c"/>
<circle cx="468.6" cy="215.9" r="1.7" fill="#a81c1c"/>
<text class="n" x="480.0" y="160.4" font-size="5.6" font-weight="bold" fill="#222">Treatment</text>
<line x1="480.0" y1="161.1" x2="506.2" y2="161.1" stroke="#222" stroke-width="0.5"/>
<circle cx="482.1" cy="166" r="1.8" fill="#3a6a96"/>
<text class="n" x="489.4" y="169.1" font-size="5.6" fill="#222">Control</text>
<circle cx="482.1" cy="172.9" r="1.8" fill="#902020"/>
<text class="n" x="489.4" y="175.6" font-size="5.6" fill="#222">Vancomycin</text>
<defs>
<clipPath id="cC"><rect x="0.7" y="268.5" width="110.6" height="108.3"/></clipPath>
<clipPath id="cN"><rect x="115.9" y="268.2" width="115.2" height="108.5"/></clipPath>
<clipPath id="cV"><rect x="237.5" y="268.7" width="112" height="108.3"/></clipPath>
<filter id="nC" x="0" y="0" width="100%" height="100%" color-interpolation-filters="sRGB">
<feTurbulence type="fractalNoise" baseFrequency="0.75" numOctaves="2" seed="3" result="n"/>
<feColorMatrix in="n" type="matrix" values="0 0 0 0 0.38  0 0 0 0 0.35  0 0 0 0 0.4  3.2 0 0 0 -1.62"/>
</filter>
<filter id="nN" x="0" y="0" width="100%" height="100%" color-interpolation-filters="sRGB">
<feTurbulence type="fractalNoise" baseFrequency="0.8" numOctaves="2" seed="7" result="n"/>
<feColorMatrix in="n" type="matrix" values="0 0 0 0 0.34  0 0 0 0 0.34  0 0 0 0 0.5  3.0 0 0 0 -1.66"/>
</filter>
<filter id="nV" x="0" y="0" width="100%" height="100%" color-interpolation-filters="sRGB">
<feTurbulence type="fractalNoise" baseFrequency="0.8" numOctaves="2" seed="11" result="n"/>
<feColorMatrix in="n" type="matrix" values="0 0 0 0 0.52  0 0 0 0 0.51  0 0 0 0 0.6  2.2 0 0 0 -1.22"/>
</filter>
<filter id="lC" x="0" y="0" width="100%" height="100%" color-interpolation-filters="sRGB">
<feTurbulence type="fractalNoise" baseFrequency="0.05" numOctaves="3" seed="5" result="n"/>
<feColorMatrix in="n" type="matrix" values="0 0 0 0 0.55  0 0 0 0 0.5  0 0 0 0 0.55  1.4 0 0 0 -0.58"/>
</filter>
<filter id="lN" x="0" y="0" width="100%" height="100%" color-interpolation-filters="sRGB">
<feTurbulence type="fractalNoise" baseFrequency="0.05" numOctaves="3" seed="9" result="n"/>
<feColorMatrix in="n" type="matrix" values="0 0 0 0 0.58  0 0 0 0 0.58  0 0 0 0 0.68  1.4 0 0 0 -0.6"/>
</filter>
<filter id="lV" x="0" y="0" width="100%" height="100%" color-interpolation-filters="sRGB">
<feTurbulence type="fractalNoise" baseFrequency="0.06" numOctaves="3" seed="13" result="n"/>
<feColorMatrix in="n" type="matrix" values="0 0 0 0 0.7  0 0 0 0 0.69  0 0 0 0 0.78  1.2 0 0 0 -0.5"/>
</filter>
<filter id="bl1" x="-50%" y="-50%" width="200%" height="200%"><feGaussianBlur stdDeviation="1.1"/></filter>
<filter id="bl2" x="-50%" y="-50%" width="200%" height="200%"><feGaussianBlur stdDeviation="2.5"/></filter>
<filter id="bl05" x="-50%" y="-50%" width="200%" height="200%"><feGaussianBlur stdDeviation="0.5"/></filter>
</defs>
<g clip-path="url(#cC)">
<rect x="0.7" y="268.5" width="110.6" height="108.3" fill="#e8e2dc"/>
<rect x="0.7" y="268.5" width="110.6" height="108.3" filter="url(#lC)"/>
<g filter="url(#bl05)">
<rect x="8.5" y="255.5" width="24.2" height="4.5" rx="2.3" transform="rotate(57 20.6 257.8)" fill="#d9d2ce" stroke="#8a8496" stroke-width="1.2" opacity="0.75"/>
<rect x="25.2" y="273.3" width="19.4" height="5.6" rx="2.8" transform="rotate(55 34.9 276.1)" fill="#d9d2ce" stroke="#8a8496" stroke-width="1.2" opacity="0.75"/>
<rect x="38.6" y="287.5" width="14.3" height="4.9" rx="2.4" transform="rotate(58 45.7 290.0)" fill="#d9d2ce" stroke="#8a8496" stroke-width="1.2" opacity="0.75"/>
<rect x="4.7" y="252.8" width="14.3" height="5.9" rx="2.9" transform="rotate(53 11.9 255.7)" fill="#d9d2ce" stroke="#8a8496" stroke-width="1.2" opacity="0.75"/>
<rect x="13.9" y="266.9" width="16.6" height="4.1" rx="2.0" transform="rotate(51 22.2 268.9)" fill="#d9d2ce" stroke="#8a8496" stroke-width="1.2" opacity="0.75"/>
<rect x="24.2" y="281.5" width="19.3" height="4.5" rx="2.2" transform="rotate(52 33.8 283.8)" fill="#d9d2ce" stroke="#8a8496" stroke-width="1.2" opacity="0.75"/>
<rect x="37.1" y="296.4" width="16.6" height="4.6" rx="2.3" transform="rotate(51 45.4 298.7)" fill="#d9d2ce" stroke="#8a8496" stroke-width="1.2" opacity="0.75"/>
<rect x="0.7" y="259.3" width="18.0" height="5.4" rx="2.7" transform="rotate(56 9.7 262.0)" fill="#d9d2ce" stroke="#8a8496" stroke-width="1.2" opacity="0.75"/>
<rect x="13.0" y="275.8" width="19.1" height="5.3" rx="2.7" transform="rotate(58 22.6 278.5)" fill="#d9d2ce" stroke="#8a8496" stroke-width="1.2" opacity="0.75"/>
<rect x="25.1" y="292.3" width="21.1" height="5.7" rx="2.8" transform="rotate(59 35.6 295.2)" fill="#d9d2ce" stroke="#8a8496" stroke-width="1.2" opacity="0.75"/>
<rect x="39.0" y="310.7" width="21.1" height="4.5" rx="2.2" transform="rotate(44 49.5 313.0)" fill="#d9d2ce" stroke="#8a8496" stroke-width="1.2" opacity="0.75"/>
<rect x="3.0" y="271.9" width="18.5" height="5.0" rx="2.5" transform="rotate(51 12.3 274.4)" fill="#d9d2ce" stroke="#8a8496" stroke-width="1.2" opacity="0.75"/>
<rect x="15.3" y="288.8" width="20.3" height="5.0" rx="2.5" transform="rotate(50 25.5 291.3)" fill="#d9d2ce" stroke="#8a8496" stroke-width="1.2" opacity="0.75"/>
<rect x="29.2" y="302.5" width="14.5" height="6.0" rx="3.0" transform="rotate(55 36.5 305.4)" fill="#d9d2ce" stroke="#8a8496" stroke-width="1.2" opacity="0.75"/>
<rect x="38.4" y="317.4" width="18.7" height="5.0" rx="2.5" transform="rotate(46 47.8 319.9)" fill="#d9d2ce" stroke="#8a8496" stroke-width="1.2" opacity="0.75"/>
<rect x="-4.7" y="275.6" width="25.4" height="4.9" rx="2.5" transform="rotate(53 8.0 278.1)" fill="#d9d2ce" stroke="#8a8496" stroke-width="1.2" opacity="0.75"/>
<rect x="12.5" y="295.0" width="20.6" height="4.0" rx="2.0" transform="rotate(60 22.8 297.0)" fill="#d9d2ce" stroke="#8a8496" stroke-width="1.2" opacity="0.75"/>
<rect x="25.8" y="313.4" width="23.8" height="5.5" rx="2.7" transform="rotate(59 37.8 316.1)" fill="#d9d2ce" stroke="#8a8496" stroke-width="1.2" opacity="0.75"/>
<rect x="-12.0" y="272.1" width="20.1" height="4.7" rx="2.4" transform="rotate(52 -1.9 274.4)" fill="#d9d2ce" stroke="#8a8496" stroke-width="1.2" opacity="0.75"/>
<rect x="1.0" y="288.7" width="20.5" height="5.2" rx="2.6" transform="rotate(54 11.3 291.3)" fill="#d9d2ce" stroke="#8a8496" stroke-width="1.2" opacity="0.75"/>
<rect x="15.7" y="304.0" width="14.3" height="4.4" rx="2.2" transform="rotate(47 22.9 306.2)" fill="#d9d2ce" stroke="#8a8496" stroke-width="1.2" opacity="0.75"/>
<rect x="23.6" y="319.9" width="24.3" height="5.6" rx="2.8" transform="rotate(57 35.8 322.7)" fill="#d9d2ce" stroke="#8a8496" stroke-width="1.2" opacity="0.75"/>
<rect x="41.3" y="338.0" width="17.1" height="5.3" rx="2.7" transform="rotate(58 49.8 340.7)" fill="#d9d2ce" stroke="#8a8496" stroke-width="1.2" opacity="0.75"/>
<rect x="-17.8" y="275.0" width="21.5" height="4.1" rx="2.1" transform="rotate(49 -7.0 277.0)" fill="#d9d2ce" stroke="#8a8496" stroke-width="1.2" opacity="0.75"/>
<rect x="-3.8" y="291.9" width="20.3" height="4.5" rx="2.3" transform="rotate(46 6.4 294.2)" fill="#d9d2ce" stroke="#8a8496" stroke-width="1.2" opacity="0.75"/>
<rect x="10.1" y="308.9" width="19.5" height="4.9" rx="2.5" transform="rotate(49 19.8 311.4)" fill="#d9d2ce" stroke="#8a8496" stroke-width="1.2" opacity="0.75"/>
<rect x="22.5" y="324.6" width="18.6" height="4.4" rx="2.2" transform="rotate(51 31.9 326.8)" fill="#d9d2ce" stroke="#8a8496" stroke-width="1.2" opacity="0.75"/>
<rect x="33.3" y="342.3" width="24.8" height="4.4" rx="2.2" transform="rotate(52 45.7 344.5)" fill="#d9d2ce" stroke="#8a8496" stroke-width="1.2" opacity="0.75"/>
<rect x="-22.2" y="274.6" width="15.8" height="4.3" rx="2.2" transform="rotate(56 -14.3 276.8)" fill="#d9d2ce" stroke="#8a8496" stroke-width="1.2" opacity="0.75"/>
<rect x="-12.5" y="291.0" width="22.1" height="4.4" rx="2.2" transform="rotate(53 -1.5 293.2)" fill="#d9d2ce" stroke="#8a8496" stroke-width="1.2" opacity="0.75"/>
<rect x="2.3" y="310.9" width="23.6" height="4.4" rx="2.2" transform="rotate(52 14.1 313.2)" fill="#d9d2ce" stroke="#8a8496" stroke-width="1.2" opacity="0.75"/>
<rect x="18.9" y="328.9" width="18.7" height="4.6" rx="2.3" transform="rotate(53 28.2 331.2)" fill="#d9d2ce" stroke="#8a8496" stroke-width="1.2" opacity="0.75"/>
<rect x="32.3" y="342.8" width="14.7" height="5.9" rx="3.0" transform="rotate(49 39.6 345.8)" fill="#d9d2ce" stroke="#8a8496" stroke-width="1.2" opacity="0.75"/>
<rect x="42.1" y="358.0" width="17.7" height="4.6" rx="2.3" transform="rotate(58 51.0 360.3)" fill="#d9d2ce" stroke="#8a8496" stroke-width="1.2" opacity="0.75"/>
<rect x="-23.4" y="281.2" width="14.1" height="4.1" rx="2.0" transform="rotate(59 -16.4 283.3)" fill="#d9d2ce" stroke="#8a8496" stroke-width="1.2" opacity="0.75"/>
<rect x="-15.6" y="298.4" width="25.5" height="4.3" rx="2.2" transform="rotate(53 -2.8 300.6)" fill="#d9d2ce" stroke="#8a8496" stroke-width="1.2" opacity="0.75"/>
<rect x="1.5" y="320.0" width="25.7" height="5.0" rx="2.5" transform="rotate(56 14.3 322.5)" fill="#d9d2ce" stroke="#8a8496" stroke-width="1.2" opacity="0.75"/>
<rect x="19.5" y="338.1" width="18.2" height="5.3" rx="2.7" transform="rotate(47 28.6 340.8)" fill="#d9d2ce" stroke="#8a8496" stroke-width="1.2" opacity="0.75"/>
<rect x="31.9" y="352.8" width="16.3" height="5.3" rx="2.7" transform="rotate(45 40.0 355.5)" fill="#d9d2ce" stroke="#8a8496" stroke-width="1.2" opacity="0.75"/>
<rect x="-22.2" y="298.5" width="24.8" height="4.4" rx="2.2" transform="rotate(44 -9.8 300.7)" fill="#d9d2ce" stroke="#8a8496" stroke-width="1.2" opacity="0.75"/>
<rect x="-6.5" y="319.2" width="25.8" height="4.7" rx="2.3" transform="rotate(57 6.5 321.6)" fill="#d9d2ce" stroke="#8a8496" stroke-width="1.2" opacity="0.75"/>
<rect x="10.7" y="338.2" width="22.1" height="5.9" rx="2.9" transform="rotate(58 21.8 341.2)" fill="#d9d2ce" stroke="#8a8496" stroke-width="1.2" opacity="0.75"/>
<rect x="24.6" y="358.0" width="24.6" height="5.0" rx="2.5" transform="rotate(55 36.9 360.5)" fill="#d9d2ce" stroke="#8a8496" stroke-width="1.2" opacity="0.75"/>
<rect x="42.7" y="376.7" width="16.8" height="4.2" rx="2.1" transform="rotate(56 51.1 378.8)" fill="#d9d2ce" stroke="#8a8496" stroke-width="1.2" opacity="0.75"/>
<rect x="-24.6" y="298.9" width="16.6" height="5.2" rx="2.6" transform="rotate(56 -16.3 301.5)" fill="#d9d2ce" stroke="#8a8496" stroke-width="1.2" opacity="0.75"/>
<rect x="-13.4" y="314.7" width="18.4" height="4.6" rx="2.3" transform="rotate(49 -4.2 317.0)" fill="#d9d2ce" stroke="#8a8496" stroke-width="1.2" opacity="0.75"/>
<rect x="-1.2" y="331.5" width="21.2" height="5.8" rx="2.9" transform="rotate(60 9.4 334.4)" fill="#d9d2ce" stroke="#8a8496" stroke-width="1.2" opacity="0.75"/>
<rect x="12.4" y="349.5" width="20.6" height="4.1" rx="2.0" transform="rotate(45 22.7 351.5)" fill="#d9d2ce" stroke="#8a8496" stroke-width="1.2" opacity="0.75"/>
<rect x="24.8" y="366.9" width="24.4" height="5.7" rx="2.8" transform="rotate(57 37.0 369.7)" fill="#d9d2ce" stroke="#8a8496" stroke-width="1.2" opacity="0.75"/>
<rect x="41.1" y="386.3" width="21.4" height="4.8" rx="2.4" transform="rotate(57 51.8 388.7)" fill="#d9d2ce" stroke="#8a8496" stroke-width="1.2" opacity="0.75"/>
<rect x="-37.2" y="290.6" width="15.0" height="5.8" rx="2.9" transform="rotate(48 -29.7 293.5)" fill="#d9d2ce" stroke="#8a8496" stroke-width="1.2" opacity="0.75"/>
<rect x="-28.9" y="308.3" width="25.1" height="4.6" rx="2.3" transform="rotate(51 -16.3 310.6)" fill="#d9d2ce" stroke="#8a8496" stroke-width="1.2" opacity="0.75"/>
<rect x="-11.9" y="328.9" width="23.9" height="5.3" rx="2.7" transform="rotate(44 0.0 331.5)" fill="#d9d2ce" stroke="#8a8496" stroke-width="1.2" opacity="0.75"/>
<rect x="4.9" y="345.5" width="15.4" height="4.1" rx="2.0" transform="rotate(59 12.6 347.6)" fill="#d9d2ce" stroke="#8a8496" stroke-width="1.2" opacity="0.75"/>
<rect x="12.9" y="362.5" width="25.9" height="4.2" rx="2.1" transform="rotate(51 25.9 364.6)" fill="#d9d2ce" stroke="#8a8496" stroke-width="1.2" opacity="0.75"/>
<rect x="31.1" y="380.0" width="16.9" height="4.2" rx="2.1" transform="rotate(56 39.5 382.1)" fill="#d9d2ce" stroke="#8a8496" stroke-width="1.2" opacity="0.75"/>
<rect x="-41.7" y="301.3" width="25.6" height="4.6" rx="2.3" transform="rotate(59 -28.9 303.6)" fill="#d9d2ce" stroke="#8a8496" stroke-width="1.2" opacity="0.75"/>
<rect x="-24.2" y="319.6" width="19.7" height="5.3" rx="2.7" transform="rotate(45 -14.3 322.3)" fill="#d9d2ce" stroke="#8a8496" stroke-width="1.2" opacity="0.75"/>
<rect x="-10.6" y="333.8" width="14.1" height="4.6" rx="2.3" transform="rotate(60 -3.5 336.1)" fill="#d9d2ce" stroke="#8a8496" stroke-width="1.2" opacity="0.75"/>
<rect x="-1.9" y="348.5" width="19.4" height="4.1" rx="2.1" transform="rotate(49 7.8 350.6)" fill="#d9d2ce" stroke="#8a8496" stroke-width="1.2" opacity="0.75"/>
<rect x="10.3" y="368.1" width="25.6" height="4.2" rx="2.1" transform="rotate(60 23.1 370.2)" fill="#d9d2ce" stroke="#8a8496" stroke-width="1.2" opacity="0.75"/>
<rect x="27.5" y="386.9" width="21.4" height="5.1" rx="2.5" transform="rotate(60 38.2 389.4)" fill="#d9d2ce" stroke="#8a8496" stroke-width="1.2" opacity="0.75"/>
<rect x="-41.0" y="305.8" width="17.1" height="4.6" rx="2.3" transform="rotate(53 -32.4 308.1)" fill="#d9d2ce" stroke="#8a8496" stroke-width="1.2" opacity="0.75"/>
<rect x="-29.4" y="318.6" width="15.0" height="6.0" rx="3.0" transform="rotate(48 -22.0 321.6)" fill="#d9d2ce" stroke="#8a8496" stroke-width="1.2" opacity="0.75"/>
<rect x="-20.7" y="334.2" width="21.8" height="5.9" rx="2.9" transform="rotate(54 -9.8 337.2)" fill="#d9d2ce" stroke="#8a8496" stroke-width="1.2" opacity="0.75"/>
<rect x="-5.7" y="351.4" width="17.7" height="4.6" rx="2.3" transform="rotate(49 3.2 353.7)" fill="#d9d2ce" stroke="#8a8496" stroke-width="1.2" opacity="0.75"/>
<rect x="5.2" y="369.8" width="24.7" height="4.7" rx="2.3" transform="rotate(49 17.6 372.2)" fill="#d9d2ce" stroke="#8a8496" stroke-width="1.2" opacity="0.75"/>
<rect x="22.1" y="389.2" width="20.9" height="4.5" rx="2.2" transform="rotate(54 32.6 391.4)" fill="#d9d2ce" stroke="#8a8496" stroke-width="1.2" opacity="0.75"/>
<rect x="-50.1" y="302.0" width="14.9" height="4.1" rx="2.1" transform="rotate(53 -42.7 304.1)" fill="#d9d2ce" stroke="#8a8496" stroke-width="1.2" opacity="0.75"/>
<rect x="-41.9" y="316.2" width="21.6" height="5.6" rx="2.8" transform="rotate(48 -31.1 319.0)" fill="#d9d2ce" stroke="#8a8496" stroke-width="1.2" opacity="0.75"/>
<rect x="-28.2" y="335.8" width="24.4" height="5.0" rx="2.5" transform="rotate(46 -16.0 338.3)" fill="#d9d2ce" stroke="#8a8496" stroke-width="1.2" opacity="0.75"/>
<rect x="-10.1" y="353.2" width="14.9" height="4.3" rx="2.2" transform="rotate(60 -2.6 355.4)" fill="#d9d2ce" stroke="#8a8496" stroke-width="1.2" opacity="0.75"/>
<rect x="-1.7" y="370.8" width="25.8" height="4.6" rx="2.3" transform="rotate(58 11.2 373.1)" fill="#d9d2ce" stroke="#8a8496" stroke-width="1.2" opacity="0.75"/>
<rect x="15.7" y="389.5" width="20.2" height="4.6" rx="2.3" transform="rotate(59 25.8 391.8)" fill="#d9d2ce" stroke="#8a8496" stroke-width="1.2" opacity="0.75"/>
<rect x="68.3" y="274.6" width="19.9" height="4.6" rx="2.3" transform="rotate(84 78.3 276.9)" fill="#d9d2ce" stroke="#8a8496" stroke-width="1.2" opacity="0.75"/>
<rect x="68.0" y="295.8" width="18.9" height="5.7" rx="2.8" transform="rotate(99 77.5 298.6)" fill="#d9d2ce" stroke="#8a8496" stroke-width="1.2" opacity="0.75"/>
<rect x="66.0" y="279.8" width="12.9" height="4.3" rx="2.2" transform="rotate(91 72.5 281.9)" fill="#d9d2ce" stroke="#8a8496" stroke-width="1.2" opacity="0.75"/>
<rect x="63.1" y="297.0" width="17.6" height="4.1" rx="2.1" transform="rotate(88 71.9 299.1)" fill="#d9d2ce" stroke="#8a8496" stroke-width="1.2" opacity="0.75"/>
<rect x="58.5" y="282.6" width="16.5" height="5.7" rx="2.9" transform="rotate(93 66.8 285.4)" fill="#d9d2ce" stroke="#8a8496" stroke-width="1.2" opacity="0.75"/>
<rect x="58.7" y="300.3" width="15.0" height="4.5" rx="2.3" transform="rotate(89 66.2 302.5)" fill="#d9d2ce" stroke="#8a8496" stroke-width="1.2" opacity="0.75"/>
<rect x="53.7" y="279.9" width="15.2" height="4.1" rx="2.1" transform="rotate(93 61.3 282.0)" fill="#d9d2ce" stroke="#8a8496" stroke-width="1.2" opacity="0.75"/>
<rect x="54.5" y="294.8" width="12.5" height="4.5" rx="2.3" transform="rotate(86 60.7 297.1)" fill="#d9d2ce" stroke="#8a8496" stroke-width="1.2" opacity="0.75"/>
<rect x="48.3" y="275.5" width="15.1" height="4.5" rx="2.2" transform="rotate(94 55.8 277.7)" fill="#d9d2ce" stroke="#8a8496" stroke-width="1.2" opacity="0.75"/>
<rect x="47.1" y="291.3" width="16.3" height="5.3" rx="2.6" transform="rotate(92 55.3 293.9)" fill="#d9d2ce" stroke="#8a8496" stroke-width="1.2" opacity="0.75"/>
<rect x="42.3" y="273.2" width="16.0" height="4.5" rx="2.2" transform="rotate(92 50.3 275.4)" fill="#d9d2ce" stroke="#8a8496" stroke-width="1.2" opacity="0.75"/>
<rect x="41.4" y="290.1" width="16.6" height="5.8" rx="2.9" transform="rotate(99 49.7 293.0)" fill="#d9d2ce" stroke="#8a8496" stroke-width="1.2" opacity="0.75"/>
<rect x="69.7" y="308.3" width="21.1" height="5.8" rx="2.9" transform="rotate(-72 80.3 311.2)" fill="#d9d2ce" stroke="#8a8496" stroke-width="1.2" opacity="0.75"/>
<rect x="74.8" y="286.1" width="20.9" height="4.5" rx="2.3" transform="rotate(-84 85.2 288.3)" fill="#d9d2ce" stroke="#8a8496" stroke-width="1.2" opacity="0.75"/>
<rect x="79.3" y="265.0" width="20.8" height="4.1" rx="2.1" transform="rotate(-74 89.7 267.0)" fill="#d9d2ce" stroke="#8a8496" stroke-width="1.2" opacity="0.75"/>
<rect x="75.4" y="324.3" width="14.5" height="5.6" rx="2.8" transform="rotate(-70 82.7 327.1)" fill="#d9d2ce" stroke="#8a8496" stroke-width="1.2" opacity="0.75"/>
<rect x="77.7" y="306.9" width="17.2" height="5.9" rx="3.0" transform="rotate(-71 86.3 309.8)" fill="#d9d2ce" stroke="#8a8496" stroke-width="1.2" opacity="0.75"/>
<rect x="79.1" y="286.6" width="23.3" height="5.3" rx="2.7" transform="rotate(-72 90.7 289.3)" fill="#d9d2ce" stroke="#8a8496" stroke-width="1.2" opacity="0.75"/>
<rect x="85.9" y="263.6" width="19.3" height="5.9" rx="3.0" transform="rotate(-71 95.5 266.5)" fill="#d9d2ce" stroke="#8a8496" stroke-width="1.2" opacity="0.75"/>
<rect x="76.2" y="339.2" width="17.9" height="5.8" rx="2.9" transform="rotate(-84 85.2 342.1)" fill="#d9d2ce" stroke="#8a8496" stroke-width="1.2" opacity="0.75"/>
<rect x="81.5" y="321.0" width="15.4" height="4.8" rx="2.4" transform="rotate(-76 89.2 323.4)" fill="#d9d2ce" stroke="#8a8496" stroke-width="1.2" opacity="0.75"/>
<rect x="84.0" y="303.9" width="17.5" height="5.5" rx="2.7" transform="rotate(-82 92.7 306.6)" fill="#d9d2ce" stroke="#8a8496" stroke-width="1.2" opacity="0.75"/>
<rect x="88.2" y="287.5" width="16.3" height="4.0" rx="2.0" transform="rotate(-79 96.4 289.6)" fill="#d9d2ce" stroke="#8a8496" stroke-width="1.2" opacity="0.75"/>
<rect x="90.0" y="267.3" width="21.3" height="4.4" rx="2.2" transform="rotate(-72 100.6 269.5)" fill="#d9d2ce" stroke="#8a8496" stroke-width="1.2" opacity="0.75"/>
<rect x="80.8" y="347.1" width="17.0" height="5.6" rx="2.8" transform="rotate(-75 89.3 349.9)" fill="#d9d2ce" stroke="#8a8496" stroke-width="1.2" opacity="0.75"/>
<rect x="81.3" y="324.4" width="25.7" height="5.0" rx="2.5" transform="rotate(-77 94.2 326.9)" fill="#d9d2ce" stroke="#8a8496" stroke-width="1.2" opacity="0.75"/>
<rect x="88.1" y="298.4" width="23.2" height="4.8" rx="2.4" transform="rotate(-77 99.7 300.8)" fill="#d9d2ce" stroke="#8a8496" stroke-width="1.2" opacity="0.75"/>
<rect x="96.3" y="278.8" width="15.3" height="4.2" rx="2.1" transform="rotate(-73 103.9 280.9)" fill="#d9d2ce" stroke="#8a8496" stroke-width="1.2" opacity="0.75"/>
<rect x="97.8" y="258.7" width="20.5" height="5.5" rx="2.8" transform="rotate(-70 108.1 261.5)" fill="#d9d2ce" stroke="#8a8496" stroke-width="1.2" opacity="0.75"/>
<rect x="84.8" y="353.6" width="17.7" height="4.7" rx="2.4" transform="rotate(-78 93.7 356.0)" fill="#d9d2ce" stroke="#8a8496" stroke-width="1.2" opacity="0.75"/>
<rect x="90.3" y="336.5" width="14.0" height="4.9" rx="2.4" transform="rotate(-79 97.3 338.9)" fill="#d9d2ce" stroke="#8a8496" stroke-width="1.2" opacity="0.75"/>
<rect x="91.6" y="319.1" width="18.8" height="5.4" rx="2.7" transform="rotate(-73 101.0 321.8)" fill="#d9d2ce" stroke="#8a8496" stroke-width="1.2" opacity="0.75"/>
<rect x="94.6" y="298.3" width="21.8" height="4.4" rx="2.2" transform="rotate(-80 105.5 300.5)" fill="#d9d2ce" stroke="#8a8496" stroke-width="1.2" opacity="0.75"/>
<rect x="101.0" y="278.0" width="17.3" height="5.8" rx="2.9" transform="rotate(-76 109.7 280.9)" fill="#d9d2ce" stroke="#8a8496" stroke-width="1.2" opacity="0.75"/>
<rect x="103.9" y="258.0" width="20.1" height="4.9" rx="2.5" transform="rotate(-70 114.0 260.4)" fill="#d9d2ce" stroke="#8a8496" stroke-width="1.2" opacity="0.75"/>
<rect x="84.9" y="368.1" width="22.9" height="4.6" rx="2.3" transform="rotate(-70 96.4 370.4)" fill="#d9d2ce" stroke="#8a8496" stroke-width="1.2" opacity="0.75"/>
<rect x="90.4" y="345.6" width="21.4" height="4.7" rx="2.4" transform="rotate(-77 101.1 347.9)" fill="#d9d2ce" stroke="#8a8496" stroke-width="1.2" opacity="0.75"/>
<rect x="96.1" y="325.4" width="18.7" height="4.8" rx="2.4" transform="rotate(-79 105.4 327.8)" fill="#d9d2ce" stroke="#8a8496" stroke-width="1.2" opacity="0.75"/>
<rect x="99.5" y="303.3" width="21.0" height="5.8" rx="2.9" transform="rotate(-74 110.0 306.2)" fill="#d9d2ce" stroke="#8a8496" stroke-width="1.2" opacity="0.75"/>
<rect x="104.7" y="281.6" width="19.9" height="5.3" rx="2.6" transform="rotate(-74 114.7 284.3)" fill="#d9d2ce" stroke="#8a8496" stroke-width="1.2" opacity="0.75"/>
<rect x="108.6" y="259.6" width="21.6" height="5.3" rx="2.6" transform="rotate(-80 119.4 262.2)" fill="#d9d2ce" stroke="#8a8496" stroke-width="1.2" opacity="0.75"/>
<rect x="92.4" y="358.3" width="23.4" height="5.5" rx="2.8" transform="rotate(-72 104.1 361.1)" fill="#d9d2ce" stroke="#8a8496" stroke-width="1.2" opacity="0.75"/>
<rect x="98.5" y="334.9" width="21.3" height="4.5" rx="2.3" transform="rotate(-81 109.2 337.1)" fill="#d9d2ce" stroke="#8a8496" stroke-width="1.2" opacity="0.75"/>
<rect x="102.1" y="310.7" width="24.5" height="4.3" rx="2.2" transform="rotate(-77 114.3 312.9)" fill="#d9d2ce" stroke="#8a8496" stroke-width="1.2" opacity="0.75"/>
<rect x="109.5" y="287.0" width="19.8" height="4.1" rx="2.0" transform="rotate(-79 119.4 289.1)" fill="#d9d2ce" stroke="#8a8496" stroke-width="1.2" opacity="0.75"/>
<rect x="112.7" y="264.3" width="22.9" height="4.7" rx="2.4" transform="rotate(-79 124.1 266.7)" fill="#d9d2ce" stroke="#8a8496" stroke-width="1.2" opacity="0.75"/>
</g>
<g filter="url(#bl05)"><ellipse cx="67.1" cy="353.7" rx="2.0" ry="1.0" transform="rotate(37 67.1 353.7)" fill="none" stroke="#8e889c" stroke-width="0.8" opacity="0.6"/><ellipse cx="73.8" cy="328.7" rx="1.9" ry="1.4" transform="rotate(30 73.8 328.7)" fill="none" stroke="#8e889c" stroke-width="0.8" opacity="0.6"/><ellipse cx="80.9" cy="355.6" rx="2.3" ry="1.0" transform="rotate(110 80.9 355.6)" fill="none" stroke="#8e889c" stroke-width="0.8" opacity="0.6"/><ellipse cx="57.8" cy="343.8" rx="1.4" ry="1.4" transform="rotate(156 57.8 343.8)" fill="none" stroke="#8e889c" stroke-width="0.8" opacity="0.6"/><ellipse cx="63.1" cy="317.3" rx="2.5" ry="1.4" transform="rotate(152 63.1 317.3)" fill="none" stroke="#8e889c" stroke-width="0.8" opacity="0.6"/><ellipse cx="68.7" cy="359.4" rx="2.3" ry="1.0" transform="rotate(113 68.7 359.4)" fill="none" stroke="#8e889c" stroke-width="0.8" opacity="0.6"/><ellipse cx="54.1" cy="375.9" rx="1.8" ry="1.5" transform="rotate(131 54.1 375.9)" fill="none" stroke="#8e889c" stroke-width="0.8" opacity="0.6"/><ellipse cx="52.6" cy="355.8" rx="1.7" ry="1.4" transform="rotate(43 52.6 355.8)" fill="none" stroke="#8e889c" stroke-width="0.8" opacity="0.6"/><ellipse cx="84.5" cy="356.0" rx="1.6" ry="0.9" transform="rotate(71 84.5 356.0)" fill="none" stroke="#8e889c" stroke-width="0.8" opacity="0.6"/><ellipse cx="72.1" cy="307.8" rx="1.5" ry="0.8" transform="rotate(108 72.1 307.8)" fill="none" stroke="#8e889c" stroke-width="0.8" opacity="0.6"/><ellipse cx="89.8" cy="375.2" rx="2.1" ry="1.1" transform="rotate(151 89.8 375.2)" fill="none" stroke="#8e889c" stroke-width="0.8" opacity="0.6"/><ellipse cx="51.5" cy="354.0" rx="1.3" ry="1.1" transform="rotate(89 51.5 354.0)" fill="none" stroke="#8e889c" stroke-width="0.8" opacity="0.6"/><ellipse cx="65.8" cy="313.2" rx="1.5" ry="1.5" transform="rotate(83 65.8 313.2)" fill="none" stroke="#8e889c" stroke-width="0.8" opacity="0.6"/><ellipse cx="77.6" cy="370.9" rx="2.6" ry="0.8" transform="rotate(144 77.6 370.9)" fill="none" stroke="#8e889c" stroke-width="0.8" opacity="0.6"/><ellipse cx="66.1" cy="345.3" rx="2.5" ry="1.1" transform="rotate(158 66.1 345.3)" fill="none" stroke="#8e889c" stroke-width="0.8" opacity="0.6"/><ellipse cx="53.0" cy="351.9" rx="1.3" ry="1.1" transform="rotate(23 53.0 351.9)" fill="none" stroke="#8e889c" stroke-width="0.8" opacity="0.6"/><ellipse cx="70.5" cy="365.5" rx="2.5" ry="0.8" transform="rotate(11 70.5 365.5)" fill="none" stroke="#8e889c" stroke-width="0.8" opacity="0.6"/><ellipse cx="60.0" cy="309.2" rx="1.3" ry="0.8" transform="rotate(115 60.0 309.2)" fill="none" stroke="#8e889c" stroke-width="0.8" opacity="0.6"/><ellipse cx="86.0" cy="353.6" rx="2.4" ry="1.3" transform="rotate(70 86.0 353.6)" fill="none" stroke="#8e889c" stroke-width="0.8" opacity="0.6"/><ellipse cx="79.7" cy="375.6" rx="2.1" ry="1.0" transform="rotate(11 79.7 375.6)" fill="none" stroke="#8e889c" stroke-width="0.8" opacity="0.6"/><ellipse cx="64.2" cy="347.2" rx="2.0" ry="1.2" transform="rotate(11 64.2 347.2)" fill="none" stroke="#8e889c" stroke-width="0.8" opacity="0.6"/><ellipse cx="64.4" cy="332.2" rx="1.5" ry="1.5" transform="rotate(76 64.4 332.2)" fill="none" stroke="#8e889c" stroke-width="0.8" opacity="0.6"/><ellipse cx="81.4" cy="355.7" rx="2.2" ry="1.4" transform="rotate(135 81.4 355.7)" fill="none" stroke="#8e889c" stroke-width="0.8" opacity="0.6"/><ellipse cx="58.8" cy="376.2" rx="1.4" ry="1.5" transform="rotate(154 58.8 376.2)" fill="none" stroke="#8e889c" stroke-width="0.8" opacity="0.6"/><ellipse cx="70.8" cy="328.9" rx="2.6" ry="0.8" transform="rotate(96 70.8 328.9)" fill="none" stroke="#8e889c" stroke-width="0.8" opacity="0.6"/><ellipse cx="69.4" cy="310.0" rx="1.8" ry="1.4" transform="rotate(159 69.4 310.0)" fill="none" stroke="#8e889c" stroke-width="0.8" opacity="0.6"/><ellipse cx="66.1" cy="357.1" rx="1.6" ry="0.9" transform="rotate(143 66.1 357.1)" fill="none" stroke="#8e889c" stroke-width="0.8" opacity="0.6"/><ellipse cx="89.4" cy="366.8" rx="1.6" ry="1.1" transform="rotate(44 89.4 366.8)" fill="none" stroke="#8e889c" stroke-width="0.8" opacity="0.6"/><ellipse cx="75.6" cy="325.7" rx="1.7" ry="1.4" transform="rotate(172 75.6 325.7)" fill="none" stroke="#8e889c" stroke-width="0.8" opacity="0.6"/><ellipse cx="80.9" cy="335.0" rx="2.6" ry="1.4" transform="rotate(150 80.9 335.0)" fill="none" stroke="#8e889c" stroke-width="0.8" opacity="0.6"/><ellipse cx="83.6" cy="341.8" rx="2.5" ry="1.5" transform="rotate(52 83.6 341.8)" fill="none" stroke="#8e889c" stroke-width="0.8" opacity="0.6"/><ellipse cx="53.6" cy="328.9" rx="1.9" ry="0.9" transform="rotate(62 53.6 328.9)" fill="none" stroke="#8e889c" stroke-width="0.8" opacity="0.6"/><ellipse cx="62.3" cy="323.3" rx="1.7" ry="1.1" transform="rotate(135 62.3 323.3)" fill="none" stroke="#8e889c" stroke-width="0.8" opacity="0.6"/><ellipse cx="72.6" cy="341.0" rx="1.4" ry="1.5" transform="rotate(59 72.6 341.0)" fill="none" stroke="#8e889c" stroke-width="0.8" opacity="0.6"/><ellipse cx="63.0" cy="305.4" rx="2.6" ry="1.2" transform="rotate(164 63.0 305.4)" fill="none" stroke="#8e889c" stroke-width="0.8" opacity="0.6"/><ellipse cx="89.9" cy="372.2" rx="2.5" ry="1.4" transform="rotate(24 89.9 372.2)" fill="none" stroke="#8e889c" stroke-width="0.8" opacity="0.6"/><ellipse cx="73.8" cy="344.9" rx="2.6" ry="1.4" transform="rotate(127 73.8 344.9)" fill="none" stroke="#8e889c" stroke-width="0.8" opacity="0.6"/><ellipse cx="67.1" cy="336.2" rx="2.6" ry="1.2" transform="rotate(30 67.1 336.2)" fill="none" stroke="#8e889c" stroke-width="0.8" opacity="0.6"/><ellipse cx="53.2" cy="353.6" rx="2.0" ry="1.5" transform="rotate(33 53.2 353.6)" fill="none" stroke="#8e889c" stroke-width="0.8" opacity="0.6"/><ellipse cx="67.6" cy="356.8" rx="1.3" ry="0.9" transform="rotate(98 67.6 356.8)" fill="none" stroke="#8e889c" stroke-width="0.8" opacity="0.6"/><ellipse cx="59.6" cy="308.3" rx="1.6" ry="1.3" transform="rotate(95 59.6 308.3)" fill="none" stroke="#8e889c" stroke-width="0.8" opacity="0.6"/><ellipse cx="54.5" cy="367.2" rx="1.2" ry="1.1" transform="rotate(153 54.5 367.2)" fill="none" stroke="#8e889c" stroke-width="0.8" opacity="0.6"/><ellipse cx="92.6" cy="369.6" rx="1.8" ry="1.3" transform="rotate(98 92.6 369.6)" fill="none" stroke="#8e889c" stroke-width="0.8" opacity="0.6"/><ellipse cx="84.9" cy="363.5" rx="2.6" ry="1.0" transform="rotate(36 84.9 363.5)" fill="none" stroke="#8e889c" stroke-width="0.8" opacity="0.6"/><ellipse cx="86.1" cy="360.1" rx="1.9" ry="1.2" transform="rotate(73 86.1 360.1)" fill="none" stroke="#8e889c" stroke-width="0.8" opacity="0.6"/><ellipse cx="55.4" cy="323.3" rx="2.2" ry="0.8" transform="rotate(22 55.4 323.3)" fill="none" stroke="#8e889c" stroke-width="0.8" opacity="0.6"/><ellipse cx="61.6" cy="369.2" rx="2.2" ry="1.6" transform="rotate(98 61.6 369.2)" fill="none" stroke="#8e889c" stroke-width="0.8" opacity="0.6"/><ellipse cx="76.5" cy="343.0" rx="1.9" ry="1.2" transform="rotate(147 76.5 343.0)" fill="none" stroke="#8e889c" stroke-width="0.8" opacity="0.6"/><ellipse cx="61.6" cy="339.5" rx="2.0" ry="1.2" transform="rotate(176 61.6 339.5)" fill="none" stroke="#8e889c" stroke-width="0.8" opacity="0.6"/><ellipse cx="54.0" cy="349.7" rx="2.6" ry="1.4" transform="rotate(102 54.0 349.7)" fill="none" stroke="#8e889c" stroke-width="0.8" opacity="0.6"/><ellipse cx="65.3" cy="331.4" rx="2.5" ry="1.5" transform="rotate(121 65.3 331.4)" fill="none" stroke="#8e889c" stroke-width="0.8" opacity="0.6"/><ellipse cx="70.5" cy="362.1" rx="1.7" ry="1.4" transform="rotate(87 70.5 362.1)" fill="none" stroke="#8e889c" stroke-width="0.8" opacity="0.6"/><ellipse cx="63.5" cy="335.6" rx="1.4" ry="1.1" transform="rotate(75 63.5 335.6)" fill="none" stroke="#8e889c" stroke-width="0.8" opacity="0.6"/><ellipse cx="59.3" cy="366.9" rx="2.0" ry="1.0" transform="rotate(180 59.3 366.9)" fill="none" stroke="#8e889c" stroke-width="0.8" opacity="0.6"/><ellipse cx="59.2" cy="340.1" rx="2.2" ry="1.4" transform="rotate(78 59.2 340.1)" fill="none" stroke="#8e889c" stroke-width="0.8" opacity="0.6"/><ellipse cx="71.4" cy="374.3" rx="1.8" ry="1.4" transform="rotate(150 71.4 374.3)" fill="none" stroke="#8e889c" stroke-width="0.8" opacity="0.6"/><ellipse cx="74.4" cy="327.0" rx="2.5" ry="1.6" transform="rotate(19 74.4 327.0)" fill="none" stroke="#8e889c" stroke-width="0.8" opacity="0.6"/><ellipse cx="75.4" cy="332.7" rx="2.1" ry="0.9" transform="rotate(48 75.4 332.7)" fill="none" stroke="#8e889c" stroke-width="0.8" opacity="0.6"/><ellipse cx="60.3" cy="337.4" rx="2.3" ry="1.5" transform="rotate(142 60.3 337.4)" fill="none" stroke="#8e889c" stroke-width="0.8" opacity="0.6"/><ellipse cx="66.4" cy="352.2" rx="1.6" ry="1.2" transform="rotate(163 66.4 352.2)" fill="none" stroke="#8e889c" stroke-width="0.8" opacity="0.6"/></g>
<rect x="0.7" y="268.5" width="110.6" height="108.3" filter="url(#nC)"/>
<g filter="url(#bl2)" fill="#e4ded6" opacity="0.3">
<path d="M53 306 L68 302 L76 330 L92 378 L56 378 Z"/>
</g>
<g filter="url(#bl05)" fill="none" stroke="#f2efea" stroke-linecap="round" stroke-linejoin="round" opacity="0.95">
<path d="M26 268 L23.7 285 L13 304.6 L6.5 317.5 L3 324" stroke-width="2.6"/>
<path d="M3 328 L15 334.8 L23.7 347.7 L32.3 362.8 L38.8 378" stroke-width="2.6"/>
<path d="M94.8 268 L101 281 L107.7 291.7" stroke-width="2.2"/>
<path d="M90.5 300 L92.6 321.8 L94.8 337" stroke-width="1.8"/>
<path d="M50 270 L51 300" stroke-width="1.6"/>
</g>
<g filter="url(#bl1)">
<ellipse cx="70" cy="280" rx="5" ry="7" fill="#a8642c" opacity="0.8" transform="rotate(20 70 280)"/>
<ellipse cx="89" cy="294" rx="3.5" ry="7" fill="#a05a26" opacity="0.85" transform="rotate(20 89 294)"/>
<ellipse cx="88.5" cy="310.5" rx="3" ry="4.5" fill="#b88a40" opacity="0.75" transform="rotate(15 88.5 310.5)"/>
<ellipse cx="105.5" cy="336" rx="3.6" ry="13" fill="#a45e2a" opacity="0.85" transform="rotate(-10 105.5 336)"/>
<ellipse cx="108" cy="357" rx="2.5" ry="3.5" fill="#7a3a18" opacity="0.8" transform="rotate(0 108 357)"/>
<ellipse cx="70.5" cy="307" rx="2.2" ry="4" fill="#a05a26" opacity="0.7" transform="rotate(0 70.5 307)"/>
<ellipse cx="37" cy="349" rx="11" ry="5" fill="#a26a3c" opacity="0.45" transform="rotate(40 37 349)"/>
<ellipse cx="17" cy="329" rx="2.4" ry="2" fill="#7a3812" opacity="0.9" transform="rotate(0 17 329)"/>
<ellipse cx="46" cy="306.8" rx="1.8" ry="2.2" fill="#5a2a10" opacity="0.9" transform="rotate(0 46 306.8)"/>
<ellipse cx="30" cy="325" rx="3" ry="2" fill="#8a4a20" opacity="0.75" transform="rotate(30 30 325)"/>
<ellipse cx="4" cy="347" rx="3" ry="7" fill="#a86430" opacity="0.7" transform="rotate(0 4 347)"/>
<ellipse cx="45" cy="360" rx="3" ry="6" fill="#a46430" opacity="0.7" transform="rotate(30 45 360)"/>
<ellipse cx="22" cy="366" rx="3" ry="5" fill="#a06030" opacity="0.55" transform="rotate(35 22 366)"/>
<ellipse cx="69" cy="307" rx="1.8" ry="3.5" fill="#a06030" opacity="0.6" transform="rotate(0 69 307)"/>
<ellipse cx="77" cy="290" rx="2" ry="4" fill="#b07a40" opacity="0.5" transform="rotate(0 77 290)"/>
<ellipse cx="96" cy="316" rx="2" ry="6" fill="#b08040" opacity="0.45" transform="rotate(-15 96 316)"/>
<ellipse cx="101" cy="360" rx="2.2" ry="6" fill="#a8662e" opacity="0.55" transform="rotate(0 101 360)"/>
<ellipse cx="12" cy="372" rx="3" ry="2" fill="#a06a3a" opacity="0.5" transform="rotate(40 12 372)"/>
<ellipse cx="58" cy="372" rx="2" ry="3" fill="#904a20" opacity="0.5" transform="rotate(0 58 372)"/>
<ellipse cx="38" cy="290" rx="2" ry="5" fill="#a87040" opacity="0.4" transform="rotate(50 38 290)"/>
<ellipse cx="8" cy="290" rx="3" ry="5" fill="#a87040" opacity="0.35" transform="rotate(50 8 290)"/>
<ellipse cx="30" cy="372" rx="2.5" ry="4" fill="#a86a34" opacity="0.5" transform="rotate(30 30 372)"/>
</g>
</g>
<g clip-path="url(#cN)">
<rect x="115.9" y="268.2" width="115.2" height="108.5" fill="#ebeaec"/>
<g filter="url(#bl05)">
<clipPath id="nfan"><path d="M115 302 Q118 284 126 279 Q138 272 160 271 Q182 271 190 275 Q202 290 211 310 Q218 322 232 330 V378 H115 Z"/></clipPath>
<g clip-path="url(#nfan)">
<path d="M115 302 Q118 284 126 279 Q138 272 160 271 Q182 271 190 275 Q202 290 211 310 Q218 322 232 330 V378 H115 Z" fill="#f0eef0"/>
<rect x="78.4" y="317.1" width="92.4" height="8.4" rx="4.2" transform="rotate(199 124.7 321.3)" fill="#e2dfe8" stroke="#8886a8" stroke-width="1.4" opacity="0.9"/>
<rect x="81.4" y="320.2" width="86.4" height="2.2" rx="1.1" transform="rotate(199 124.7 321.3)" fill="#f2f0f2" stroke="none" stroke-width="0" opacity="0.7"/>
<rect x="80.8" y="312.0" width="99.3" height="8.4" rx="4.2" transform="rotate(205 130.5 316.2)" fill="#e2dfe8" stroke="#8886a8" stroke-width="1.4" opacity="0.9"/>
<rect x="83.8" y="315.1" width="93.3" height="2.2" rx="1.1" transform="rotate(205 130.5 316.2)" fill="#f2f0f2" stroke="none" stroke-width="0" opacity="0.7"/>
<rect x="86.4" y="301.6" width="94.1" height="8.4" rx="4.2" transform="rotate(215 133.5 305.8)" fill="#e2dfe8" stroke="#8886a8" stroke-width="1.4" opacity="0.9"/>
<rect x="89.4" y="304.7" width="88.1" height="2.2" rx="1.1" transform="rotate(215 133.5 305.8)" fill="#f2f0f2" stroke="none" stroke-width="0" opacity="0.7"/>
<rect x="91.4" y="296.1" width="97.5" height="8.4" rx="4.2" transform="rotate(223 140.2 300.3)" fill="#e2dfe8" stroke="#8886a8" stroke-width="1.4" opacity="0.9"/>
<rect x="94.4" y="299.2" width="91.5" height="2.2" rx="1.1" transform="rotate(223 140.2 300.3)" fill="#f2f0f2" stroke="none" stroke-width="0" opacity="0.7"/>
<rect x="98.2" y="289.3" width="95.1" height="8.4" rx="4.2" transform="rotate(231 145.7 293.5)" fill="#e2dfe8" stroke="#8886a8" stroke-width="1.4" opacity="0.9"/>
<rect x="101.2" y="292.4" width="89.1" height="2.2" rx="1.1" transform="rotate(231 145.7 293.5)" fill="#f2f0f2" stroke="none" stroke-width="0" opacity="0.7"/>
<rect x="104.6" y="285.7" width="98.7" height="8.4" rx="4.2" transform="rotate(239 153.9 289.9)" fill="#e2dfe8" stroke="#8886a8" stroke-width="1.4" opacity="0.9"/>
<rect x="107.6" y="288.8" width="92.7" height="2.2" rx="1.1" transform="rotate(239 153.9 289.9)" fill="#f2f0f2" stroke="none" stroke-width="0" opacity="0.7"/>
<rect x="112.6" y="281.1" width="96.9" height="8.4" rx="4.2" transform="rotate(247 161.0 285.3)" fill="#e2dfe8" stroke="#8886a8" stroke-width="1.4" opacity="0.9"/>
<rect x="115.6" y="284.2" width="90.9" height="2.2" rx="1.1" transform="rotate(247 161.0 285.3)" fill="#f2f0f2" stroke="none" stroke-width="0" opacity="0.7"/>
<rect x="123.3" y="275.8" width="92.0" height="8.4" rx="4.2" transform="rotate(256 169.4 280.0)" fill="#e2dfe8" stroke="#8886a8" stroke-width="1.4" opacity="0.9"/>
<rect x="126.3" y="278.9" width="86.0" height="2.2" rx="1.1" transform="rotate(256 169.4 280.0)" fill="#f2f0f2" stroke="none" stroke-width="0" opacity="0.7"/>
<rect x="131.2" y="275.9" width="95.6" height="8.4" rx="4.2" transform="rotate(264 179.0 280.1)" fill="#e2dfe8" stroke="#8886a8" stroke-width="1.4" opacity="0.9"/>
<rect x="134.2" y="279.0" width="89.6" height="2.2" rx="1.1" transform="rotate(264 179.0 280.1)" fill="#f2f0f2" stroke="none" stroke-width="0" opacity="0.7"/>
<rect x="137.9" y="276.8" width="97.9" height="8.4" rx="4.2" transform="rotate(272 186.8 281.0)" fill="#e2dfe8" stroke="#8886a8" stroke-width="1.4" opacity="0.9"/>
<rect x="140.9" y="279.9" width="91.9" height="2.2" rx="1.1" transform="rotate(272 186.8 281.0)" fill="#f2f0f2" stroke="none" stroke-width="0" opacity="0.7"/>
<rect x="144.6" y="278.4" width="99.8" height="8.4" rx="4.2" transform="rotate(279 194.5 282.6)" fill="#e2dfe8" stroke="#8886a8" stroke-width="1.4" opacity="0.9"/>
<rect x="147.6" y="281.5" width="93.8" height="2.2" rx="1.1" transform="rotate(279 194.5 282.6)" fill="#f2f0f2" stroke="none" stroke-width="0" opacity="0.7"/>
<rect x="155.3" y="279.6" width="97.5" height="8.4" rx="4.2" transform="rotate(288 204.1 283.8)" fill="#e2dfe8" stroke="#8886a8" stroke-width="1.4" opacity="0.9"/>
<rect x="158.3" y="282.7" width="91.5" height="2.2" rx="1.1" transform="rotate(288 204.1 283.8)" fill="#f2f0f2" stroke="none" stroke-width="0" opacity="0.7"/>
</g>
<path d="M196 268 H232 V326 Q222 318 216 306 Q208 286 196 268 Z" fill="#e6e3ea"/>
<rect x="210.7" y="259.1" width="37.1" height="7.6" rx="3.8" transform="rotate(14 229.2 262.9)" fill="#e2dfe8" stroke="#8886a8" stroke-width="1.3" opacity="0.85"/>
<rect x="247.8" y="267.0" width="21.4" height="6.3" rx="3.2" transform="rotate(11 258.5 270.2)" fill="#e2dfe8" stroke="#8886a8" stroke-width="1.3" opacity="0.85"/>
<rect x="226.7" y="270.6" width="33.1" height="8.6" rx="4.3" transform="rotate(9 243.3 274.8)" fill="#e2dfe8" stroke="#8886a8" stroke-width="1.3" opacity="0.85"/>
<rect x="217.0" y="277.3" width="37.3" height="8.3" rx="4.1" transform="rotate(19 235.7 281.4)" fill="#e2dfe8" stroke="#8886a8" stroke-width="1.3" opacity="0.85"/>
<rect x="222.2" y="287.2" width="38.3" height="8.2" rx="4.1" transform="rotate(8 241.3 291.3)" fill="#e2dfe8" stroke="#8886a8" stroke-width="1.3" opacity="0.85"/>
<rect x="205.2" y="290.2" width="30.5" height="8.7" rx="4.3" transform="rotate(14 220.5 294.5)" fill="#e2dfe8" stroke="#8886a8" stroke-width="1.3" opacity="0.85"/>
<rect x="236.2" y="298.6" width="36.0" height="8.5" rx="4.3" transform="rotate(11 254.2 302.9)" fill="#e2dfe8" stroke="#8886a8" stroke-width="1.3" opacity="0.85"/>
<rect x="235.7" y="307.7" width="34.0" height="6.6" rx="3.3" transform="rotate(14 252.7 311.0)" fill="#e2dfe8" stroke="#8886a8" stroke-width="1.3" opacity="0.85"/>
<rect x="233.8" y="314.5" width="25.8" height="6.8" rx="3.4" transform="rotate(21 246.7 317.9)" fill="#e2dfe8" stroke="#8886a8" stroke-width="1.3" opacity="0.85"/>
<rect x="131.5" y="340.6" width="15.1" height="4.0" rx="2.0" transform="rotate(27 139.0 342.6)" fill="#e2dfe6" stroke="#8886a8" stroke-width="1.1" opacity="0.75"/>
<rect x="147.2" y="347.5" width="13.6" height="4.2" rx="2.1" transform="rotate(32 154.0 349.6)" fill="#e2dfe6" stroke="#8886a8" stroke-width="1.1" opacity="0.75"/>
<rect x="161.5" y="353.0" width="8.8" height="4.4" rx="2.2" transform="rotate(28 166.0 355.2)" fill="#e2dfe6" stroke="#8886a8" stroke-width="1.1" opacity="0.75"/>
<rect x="121.1" y="341.7" width="14.5" height="4.2" rx="2.1" transform="rotate(21 128.3 343.8)" fill="#e2dfe6" stroke="#8886a8" stroke-width="1.1" opacity="0.75"/>
<rect x="136.4" y="348.3" width="11.4" height="3.9" rx="2.0" transform="rotate(29 142.2 350.3)" fill="#e2dfe6" stroke="#8886a8" stroke-width="1.1" opacity="0.75"/>
<rect x="148.0" y="353.2" width="9.6" height="4.0" rx="2.0" transform="rotate(28 152.8 355.2)" fill="#e2dfe6" stroke="#8886a8" stroke-width="1.1" opacity="0.75"/>
<rect x="159.0" y="358.2" width="8.6" height="3.9" rx="1.9" transform="rotate(29 163.3 360.1)" fill="#e2dfe6" stroke="#8886a8" stroke-width="1.1" opacity="0.75"/>
<rect x="115.1" y="345.0" width="13.4" height="3.9" rx="2.0" transform="rotate(23 121.7 346.9)" fill="#e2dfe6" stroke="#8886a8" stroke-width="1.1" opacity="0.75"/>
<rect x="129.6" y="350.5" width="9.5" height="4.5" rx="2.3" transform="rotate(17 134.4 352.8)" fill="#e2dfe6" stroke="#8886a8" stroke-width="1.1" opacity="0.75"/>
<rect x="139.6" y="356.2" width="13.7" height="4.5" rx="2.2" transform="rotate(18 146.5 358.4)" fill="#e2dfe6" stroke="#8886a8" stroke-width="1.1" opacity="0.75"/>
<rect x="152.6" y="361.4" width="11.6" height="5.3" rx="2.6" transform="rotate(30 158.5 364.0)" fill="#e2dfe6" stroke="#8886a8" stroke-width="1.1" opacity="0.75"/>
<rect x="118.4" y="351.8" width="11.8" height="5.1" rx="2.6" transform="rotate(20 124.3 354.3)" fill="#e2dfe6" stroke="#8886a8" stroke-width="1.1" opacity="0.75"/>
<rect x="130.3" y="356.4" width="9.1" height="5.5" rx="2.8" transform="rotate(24 134.9 359.2)" fill="#e2dfe6" stroke="#8886a8" stroke-width="1.1" opacity="0.75"/>
<rect x="139.1" y="361.7" width="12.6" height="4.8" rx="2.4" transform="rotate(23 145.4 364.1)" fill="#e2dfe6" stroke="#8886a8" stroke-width="1.1" opacity="0.75"/>
<rect x="151.1" y="367.9" width="15.3" height="5.0" rx="2.5" transform="rotate(21 158.8 370.4)" fill="#e2dfe6" stroke="#8886a8" stroke-width="1.1" opacity="0.75"/>
<rect x="108.6" y="354.1" width="12.4" height="3.9" rx="2.0" transform="rotate(19 114.8 356.0)" fill="#e2dfe6" stroke="#8886a8" stroke-width="1.1" opacity="0.75"/>
<rect x="120.5" y="358.4" width="9.6" height="5.1" rx="2.5" transform="rotate(18 125.2 360.9)" fill="#e2dfe6" stroke="#8886a8" stroke-width="1.1" opacity="0.75"/>
<rect x="130.2" y="364.0" width="15.5" height="5.7" rx="2.9" transform="rotate(32 138.0 366.8)" fill="#e2dfe6" stroke="#8886a8" stroke-width="1.1" opacity="0.75"/>
<rect x="145.3" y="370.5" width="11.6" height="5.0" rx="2.5" transform="rotate(21 151.1 373.0)" fill="#e2dfe6" stroke="#8886a8" stroke-width="1.1" opacity="0.75"/>
<rect x="157.3" y="377.0" width="14.2" height="4.3" rx="2.2" transform="rotate(29 164.4 379.2)" fill="#e2dfe6" stroke="#8886a8" stroke-width="1.1" opacity="0.75"/>
<rect x="111.9" y="360.5" width="8.4" height="4.6" rx="2.3" transform="rotate(17 116.1 362.8)" fill="#e2dfe6" stroke="#8886a8" stroke-width="1.1" opacity="0.75"/>
<rect x="120.0" y="365.8" width="13.6" height="4.0" rx="2.0" transform="rotate(21 126.8 367.8)" fill="#e2dfe6" stroke="#8886a8" stroke-width="1.1" opacity="0.75"/>
<rect x="133.3" y="370.7" width="10.1" height="4.8" rx="2.4" transform="rotate(20 138.3 373.2)" fill="#e2dfe6" stroke="#8886a8" stroke-width="1.1" opacity="0.75"/>
<rect x="143.6" y="376.0" width="10.6" height="4.2" rx="2.1" transform="rotate(27 149.0 378.1)" fill="#e2dfe6" stroke="#8886a8" stroke-width="1.1" opacity="0.75"/>
<rect x="155.2" y="382.3" width="15.3" height="4.7" rx="2.3" transform="rotate(29 162.8 384.6)" fill="#e2dfe6" stroke="#8886a8" stroke-width="1.1" opacity="0.75"/>
<rect x="110.1" y="365.8" width="8.8" height="4.8" rx="2.4" transform="rotate(24 114.5 368.3)" fill="#e2dfe6" stroke="#8886a8" stroke-width="1.1" opacity="0.75"/>
<rect x="118.8" y="370.1" width="9.1" height="4.5" rx="2.3" transform="rotate(30 123.4 372.4)" fill="#e2dfe6" stroke="#8886a8" stroke-width="1.1" opacity="0.75"/>
<rect x="128.2" y="375.9" width="15.0" height="4.4" rx="2.2" transform="rotate(27 135.7 378.1)" fill="#e2dfe6" stroke="#8886a8" stroke-width="1.1" opacity="0.75"/>
<rect x="144.2" y="382.1" width="11.1" height="5.2" rx="2.6" transform="rotate(17 149.8 384.7)" fill="#e2dfe6" stroke="#8886a8" stroke-width="1.1" opacity="0.75"/>
<rect x="154.9" y="387.0" width="10.6" height="5.1" rx="2.6" transform="rotate(31 160.2 389.6)" fill="#e2dfe6" stroke="#8886a8" stroke-width="1.1" opacity="0.75"/>
<rect x="197.9" y="323.5" width="30.0" height="6.2" rx="3.1" transform="rotate(-77 212.9 326.6)" fill="#dedbe6" stroke="#8886a8" stroke-width="1.1" opacity="0.85"/>
<rect x="197.4" y="362.1" width="20.1" height="5.0" rx="2.5" transform="rotate(-79 207.5 364.6)" fill="#dedbe6" stroke="#8886a8" stroke-width="1.1" opacity="0.85"/>
<rect x="201.5" y="336.3" width="28.2" height="6.5" rx="3.2" transform="rotate(-64 215.6 339.6)" fill="#dedbe6" stroke="#8886a8" stroke-width="1.1" opacity="0.85"/>
<rect x="210.3" y="308.8" width="28.5" height="6.5" rx="3.3" transform="rotate(-67 224.5 312.1)" fill="#dedbe6" stroke="#8886a8" stroke-width="1.1" opacity="0.85"/>
<rect x="201.6" y="362.4" width="25.3" height="5.4" rx="2.7" transform="rotate(-67 214.2 365.1)" fill="#dedbe6" stroke="#8886a8" stroke-width="1.1" opacity="0.85"/>
<rect x="209.8" y="336.0" width="25.6" height="6.7" rx="3.4" transform="rotate(-64 222.6 339.4)" fill="#dedbe6" stroke="#8886a8" stroke-width="1.1" opacity="0.85"/>
<rect x="206.7" y="367.1" width="25.8" height="5.8" rx="2.9" transform="rotate(-76 219.6 370.0)" fill="#dedbe6" stroke="#8886a8" stroke-width="1.1" opacity="0.85"/>
<rect x="212.9" y="337.1" width="32.5" height="6.8" rx="3.4" transform="rotate(-71 229.2 340.5)" fill="#dedbe6" stroke="#8886a8" stroke-width="1.1" opacity="0.85"/>
<rect x="226.2" y="310.5" width="23.8" height="5.2" rx="2.6" transform="rotate(-63 238.1 313.1)" fill="#dedbe6" stroke="#8886a8" stroke-width="1.1" opacity="0.85"/>
<rect x="213.8" y="375.5" width="19.5" height="7.2" rx="3.6" transform="rotate(-65 223.6 379.1)" fill="#dedbe6" stroke="#8886a8" stroke-width="1.1" opacity="0.85"/>
<rect x="220.2" y="355.8" width="20.2" height="5.4" rx="2.7" transform="rotate(-75 230.3 358.5)" fill="#dedbe6" stroke="#8886a8" stroke-width="1.1" opacity="0.85"/>
<rect x="224.0" y="330.4" width="28.8" height="6.1" rx="3.0" transform="rotate(-73 238.4 333.4)" fill="#dedbe6" stroke="#8886a8" stroke-width="1.1" opacity="0.85"/>
<rect x="225.5" y="360.8" width="19.7" height="6.5" rx="3.3" transform="rotate(-72 235.4 364.0)" fill="#dedbe6" stroke="#8886a8" stroke-width="1.1" opacity="0.85"/>
<rect x="227.6" y="335.2" width="32.2" height="6.5" rx="3.2" transform="rotate(-73 243.7 338.4)" fill="#dedbe6" stroke="#8886a8" stroke-width="1.1" opacity="0.85"/>
<rect x="114.8" y="309.5" width="11.0" height="4.1" rx="2.0" transform="rotate(59 120.3 311.6)" fill="#e2dfe6" stroke="#8886a8" stroke-width="1.0" opacity="0.75"/>
<rect x="107.3" y="311.9" width="15.8" height="5.4" rx="2.7" transform="rotate(68 115.1 314.6)" fill="#e2dfe6" stroke="#8886a8" stroke-width="1.0" opacity="0.75"/>
<rect x="115.3" y="327.7" width="17.9" height="5.5" rx="2.7" transform="rotate(57 124.3 330.4)" fill="#e2dfe6" stroke="#8886a8" stroke-width="1.0" opacity="0.75"/>
<rect x="101.0" y="312.4" width="15.0" height="5.3" rx="2.7" transform="rotate(58 108.5 315.1)" fill="#e2dfe6" stroke="#8886a8" stroke-width="1.0" opacity="0.75"/>
<rect x="109.7" y="327.8" width="15.1" height="4.9" rx="2.5" transform="rotate(52 117.3 330.3)" fill="#e2dfe6" stroke="#8886a8" stroke-width="1.0" opacity="0.75"/>
</g>
<rect x="115.9" y="268.2" width="115.2" height="108.5" filter="url(#nN)"/>
<g filter="url(#bl05)" fill="#ebeaec">
<path d="M115 268 H192 Q170 270 150 271.5 Q132 273.5 125 279 Q118 286 117 302 L115 302 Z"/>
<path d="M189 268 H197 Q209 285 215 306 Q220 318 232 328 V331 Q218 322 212 310 Q202 288 189 268 Z"/>
</g>
<g filter="url(#bl2)" fill="#ece8e1" opacity="0.8">
<path d="M180 338 L198 334 L206 378 L178 378 Z"/>
</g>
<g filter="url(#bl1)">
<ellipse cx="173.5" cy="296" rx="1.8" ry="4" fill="#a8642c" opacity="0.7" transform="rotate(0 173.5 296)"/>
<ellipse cx="182.5" cy="295" rx="1.8" ry="4" fill="#b07a3a" opacity="0.7" transform="rotate(0 182.5 295)"/>
<ellipse cx="205" cy="337.8" rx="2.5" ry="2.5" fill="#8a3a1a" opacity="0.85" transform="rotate(0 205 337.8)"/>
<ellipse cx="187" cy="322" rx="1.6" ry="3" fill="#a06030" opacity="0.6" transform="rotate(0 187 322)"/>
<ellipse cx="211.8" cy="322" rx="1.6" ry="3" fill="#b08040" opacity="0.6" transform="rotate(0 211.8 322)"/>
<ellipse cx="135.3" cy="362.5" rx="3" ry="3.5" fill="#a05a28" opacity="0.75" transform="rotate(0 135.3 362.5)"/>
<ellipse cx="119.5" cy="353.5" rx="2" ry="4" fill="#a86a34" opacity="0.65" transform="rotate(0 119.5 353.5)"/>
<ellipse cx="151" cy="367" rx="3" ry="2.5" fill="#a06a3a" opacity="0.55" transform="rotate(0 151 367)"/>
<ellipse cx="142" cy="372" rx="4" ry="2.5" fill="#b07a48" opacity="0.45" transform="rotate(0 142 372)"/>
</g>
</g>
<g clip-path="url(#cV)">
<rect x="237.5" y="268.7" width="112" height="108.3" fill="#e2e1e6"/>
<rect x="237.5" y="268.7" width="112" height="108.3" filter="url(#lV)"/>
<g filter="url(#bl05)">
<rect x="259.3" y="325.8" width="7.0" height="4.4" rx="2.2" transform="rotate(67 262.8 328.0)" fill="#ecebef" stroke="#aaa8ba" stroke-width="1.0" opacity="0.6"/>
<rect x="240.0" y="265.6" width="5.3" height="3.9" rx="1.9" transform="rotate(151 242.7 267.5)" fill="#ecebef" stroke="#aaa8ba" stroke-width="1.0" opacity="0.6"/>
<rect x="348.3" y="317.4" width="6.4" height="4.5" rx="2.2" transform="rotate(150 351.5 319.6)" fill="#ecebef" stroke="#aaa8ba" stroke-width="1.0" opacity="0.6"/>
<rect x="332.9" y="323.8" width="7.4" height="3.6" rx="1.8" transform="rotate(133 336.6 325.6)" fill="#ecebef" stroke="#aaa8ba" stroke-width="1.0" opacity="0.6"/>
<rect x="321.6" y="331.0" width="4.2" height="4.8" rx="2.4" transform="rotate(54 323.7 333.4)" fill="#ecebef" stroke="#aaa8ba" stroke-width="1.0" opacity="0.6"/>
<rect x="286.5" y="345.5" width="7.6" height="4.9" rx="2.4" transform="rotate(158 290.3 347.9)" fill="#ecebef" stroke="#aaa8ba" stroke-width="1.0" opacity="0.6"/>
<rect x="276.9" y="354.9" width="8.7" height="4.8" rx="2.4" transform="rotate(80 281.2 357.3)" fill="#ecebef" stroke="#aaa8ba" stroke-width="1.0" opacity="0.6"/>
<rect x="242.0" y="279.4" width="8.8" height="4.2" rx="2.1" transform="rotate(39 246.4 281.5)" fill="#ecebef" stroke="#aaa8ba" stroke-width="1.0" opacity="0.6"/>
<rect x="305.4" y="298.3" width="5.9" height="4.0" rx="2.0" transform="rotate(91 308.3 300.3)" fill="#ecebef" stroke="#aaa8ba" stroke-width="1.0" opacity="0.6"/>
<rect x="299.7" y="330.2" width="7.4" height="4.9" rx="2.4" transform="rotate(163 303.5 332.6)" fill="#ecebef" stroke="#aaa8ba" stroke-width="1.0" opacity="0.6"/>
<rect x="332.8" y="376.6" width="4.8" height="4.8" rx="2.4" transform="rotate(121 335.2 379.0)" fill="#ecebef" stroke="#aaa8ba" stroke-width="1.0" opacity="0.6"/>
<rect x="344.1" y="367.2" width="7.6" height="3.8" rx="1.9" transform="rotate(102 347.9 369.1)" fill="#ecebef" stroke="#aaa8ba" stroke-width="1.0" opacity="0.6"/>
<rect x="330.1" y="329.0" width="4.3" height="4.8" rx="2.4" transform="rotate(51 332.3 331.4)" fill="#ecebef" stroke="#aaa8ba" stroke-width="1.0" opacity="0.6"/>
<rect x="347.8" y="274.2" width="6.1" height="3.7" rx="1.9" transform="rotate(144 350.8 276.1)" fill="#ecebef" stroke="#aaa8ba" stroke-width="1.0" opacity="0.6"/>
<rect x="267.3" y="351.4" width="4.2" height="4.4" rx="2.2" transform="rotate(157 269.4 353.6)" fill="#ecebef" stroke="#aaa8ba" stroke-width="1.0" opacity="0.6"/>
<rect x="347.0" y="321.8" width="5.5" height="3.6" rx="1.8" transform="rotate(180 349.7 323.6)" fill="#ecebef" stroke="#aaa8ba" stroke-width="1.0" opacity="0.6"/>
<rect x="302.2" y="267.4" width="6.0" height="4.4" rx="2.2" transform="rotate(36 305.2 269.6)" fill="#ecebef" stroke="#aaa8ba" stroke-width="1.0" opacity="0.6"/>
<rect x="250.5" y="268.4" width="5.6" height="4.9" rx="2.5" transform="rotate(156 253.3 270.8)" fill="#ecebef" stroke="#aaa8ba" stroke-width="1.0" opacity="0.6"/>
<rect x="336.6" y="306.8" width="6.6" height="4.5" rx="2.2" transform="rotate(83 339.9 309.1)" fill="#ecebef" stroke="#aaa8ba" stroke-width="1.0" opacity="0.6"/>
<rect x="300.3" y="327.6" width="8.7" height="4.3" rx="2.1" transform="rotate(112 304.7 329.8)" fill="#ecebef" stroke="#aaa8ba" stroke-width="1.0" opacity="0.6"/>
<rect x="282.7" y="345.6" width="5.5" height="5.0" rx="2.5" transform="rotate(43 285.4 348.1)" fill="#ecebef" stroke="#aaa8ba" stroke-width="1.0" opacity="0.6"/>
<rect x="292.9" y="326.3" width="6.1" height="4.4" rx="2.2" transform="rotate(2 296.0 328.5)" fill="#ecebef" stroke="#aaa8ba" stroke-width="1.0" opacity="0.6"/>
<rect x="305.8" y="270.6" width="6.3" height="4.5" rx="2.3" transform="rotate(113 309.0 272.8)" fill="#ecebef" stroke="#aaa8ba" stroke-width="1.0" opacity="0.6"/>
<rect x="274.2" y="344.8" width="4.1" height="3.6" rx="1.8" transform="rotate(133 276.3 346.6)" fill="#ecebef" stroke="#aaa8ba" stroke-width="1.0" opacity="0.6"/>
<rect x="311.0" y="373.6" width="6.3" height="4.4" rx="2.2" transform="rotate(45 314.1 375.8)" fill="#ecebef" stroke="#aaa8ba" stroke-width="1.0" opacity="0.6"/>
<rect x="269.5" y="305.3" width="5.8" height="4.4" rx="2.2" transform="rotate(56 272.4 307.5)" fill="#ecebef" stroke="#aaa8ba" stroke-width="1.0" opacity="0.6"/>
<rect x="268.1" y="306.8" width="4.1" height="4.4" rx="2.2" transform="rotate(139 270.1 309.0)" fill="#ecebef" stroke="#aaa8ba" stroke-width="1.0" opacity="0.6"/>
<rect x="317.0" y="299.4" width="8.0" height="3.9" rx="1.9" transform="rotate(40 321.0 301.3)" fill="#ecebef" stroke="#aaa8ba" stroke-width="1.0" opacity="0.6"/>
<rect x="254.7" y="313.6" width="4.5" height="4.0" rx="2.0" transform="rotate(126 256.9 315.6)" fill="#ecebef" stroke="#aaa8ba" stroke-width="1.0" opacity="0.6"/>
<rect x="283.5" y="361.3" width="5.7" height="4.5" rx="2.2" transform="rotate(30 286.3 363.5)" fill="#ecebef" stroke="#aaa8ba" stroke-width="1.0" opacity="0.6"/>
<rect x="336.2" y="315.3" width="4.6" height="4.3" rx="2.1" transform="rotate(40 338.5 317.4)" fill="#ecebef" stroke="#aaa8ba" stroke-width="1.0" opacity="0.6"/>
<rect x="329.1" y="284.7" width="8.0" height="4.5" rx="2.2" transform="rotate(50 333.1 286.9)" fill="#ecebef" stroke="#aaa8ba" stroke-width="1.0" opacity="0.6"/>
<rect x="326.6" y="303.0" width="5.5" height="4.7" rx="2.3" transform="rotate(23 329.3 305.4)" fill="#ecebef" stroke="#aaa8ba" stroke-width="1.0" opacity="0.6"/>
<rect x="263.7" y="303.4" width="6.1" height="4.1" rx="2.1" transform="rotate(75 266.7 305.5)" fill="#ecebef" stroke="#aaa8ba" stroke-width="1.0" opacity="0.6"/>
<rect x="338.4" y="281.4" width="8.7" height="4.8" rx="2.4" transform="rotate(1 342.7 283.8)" fill="#ecebef" stroke="#aaa8ba" stroke-width="1.0" opacity="0.6"/>
<rect x="346.2" y="313.6" width="8.6" height="3.8" rx="1.9" transform="rotate(171 350.5 315.5)" fill="#ecebef" stroke="#aaa8ba" stroke-width="1.0" opacity="0.6"/>
<rect x="318.9" y="359.4" width="6.6" height="3.9" rx="2.0" transform="rotate(119 322.2 361.4)" fill="#ecebef" stroke="#aaa8ba" stroke-width="1.0" opacity="0.6"/>
<rect x="271.4" y="290.0" width="6.9" height="3.9" rx="2.0" transform="rotate(12 274.9 291.9)" fill="#ecebef" stroke="#aaa8ba" stroke-width="1.0" opacity="0.6"/>
<rect x="326.1" y="268.7" width="7.5" height="4.9" rx="2.4" transform="rotate(163 329.8 271.1)" fill="#ecebef" stroke="#aaa8ba" stroke-width="1.0" opacity="0.6"/>
<rect x="337.9" y="366.3" width="4.1" height="4.6" rx="2.3" transform="rotate(104 339.9 368.6)" fill="#ecebef" stroke="#aaa8ba" stroke-width="1.0" opacity="0.6"/>
<rect x="251.8" y="298.1" width="6.6" height="4.1" rx="2.1" transform="rotate(119 255.1 300.2)" fill="#ecebef" stroke="#aaa8ba" stroke-width="1.0" opacity="0.6"/>
<rect x="342.2" y="333.4" width="5.3" height="4.8" rx="2.4" transform="rotate(61 344.9 335.8)" fill="#ecebef" stroke="#aaa8ba" stroke-width="1.0" opacity="0.6"/>
<rect x="288.3" y="353.0" width="5.0" height="4.3" rx="2.2" transform="rotate(63 290.8 355.2)" fill="#ecebef" stroke="#aaa8ba" stroke-width="1.0" opacity="0.6"/>
<rect x="326.3" y="283.2" width="8.6" height="4.7" rx="2.4" transform="rotate(142 330.6 285.5)" fill="#ecebef" stroke="#aaa8ba" stroke-width="1.0" opacity="0.6"/>
<rect x="327.2" y="265.1" width="8.3" height="3.6" rx="1.8" transform="rotate(113 331.3 266.9)" fill="#ecebef" stroke="#aaa8ba" stroke-width="1.0" opacity="0.6"/>
<rect x="263.7" y="294.5" width="6.1" height="4.2" rx="2.1" transform="rotate(95 266.8 296.6)" fill="#ecebef" stroke="#aaa8ba" stroke-width="1.0" opacity="0.6"/>
<rect x="323.5" y="264.4" width="4.6" height="3.7" rx="1.8" transform="rotate(10 325.9 266.2)" fill="#ecebef" stroke="#aaa8ba" stroke-width="1.0" opacity="0.6"/>
<rect x="332.2" y="273.8" width="5.6" height="4.0" rx="2.0" transform="rotate(90 335.0 275.8)" fill="#ecebef" stroke="#aaa8ba" stroke-width="1.0" opacity="0.6"/>
<rect x="273.2" y="337.9" width="5.8" height="3.8" rx="1.9" transform="rotate(106 276.1 339.7)" fill="#ecebef" stroke="#aaa8ba" stroke-width="1.0" opacity="0.6"/>
<rect x="269.7" y="278.1" width="7.6" height="4.1" rx="2.0" transform="rotate(100 273.5 280.1)" fill="#ecebef" stroke="#aaa8ba" stroke-width="1.0" opacity="0.6"/>
<rect x="240.8" y="284.0" width="7.0" height="4.7" rx="2.3" transform="rotate(67 244.3 286.4)" fill="#ecebef" stroke="#aaa8ba" stroke-width="1.0" opacity="0.6"/>
<rect x="276.4" y="355.3" width="6.2" height="4.1" rx="2.0" transform="rotate(112 279.5 357.3)" fill="#ecebef" stroke="#aaa8ba" stroke-width="1.0" opacity="0.6"/>
<rect x="289.3" y="344.0" width="7.5" height="4.2" rx="2.1" transform="rotate(76 293.0 346.1)" fill="#ecebef" stroke="#aaa8ba" stroke-width="1.0" opacity="0.6"/>
<rect x="261.5" y="325.0" width="4.4" height="4.1" rx="2.1" transform="rotate(125 263.7 327.1)" fill="#ecebef" stroke="#aaa8ba" stroke-width="1.0" opacity="0.6"/>
<rect x="281.9" y="363.9" width="5.9" height="4.8" rx="2.4" transform="rotate(168 284.8 366.3)" fill="#ecebef" stroke="#aaa8ba" stroke-width="1.0" opacity="0.6"/>
<rect x="325.2" y="293.5" width="4.6" height="4.7" rx="2.4" transform="rotate(84 327.5 295.9)" fill="#ecebef" stroke="#aaa8ba" stroke-width="1.0" opacity="0.6"/>
<rect x="308.8" y="364.9" width="7.3" height="4.6" rx="2.3" transform="rotate(143 312.5 367.2)" fill="#ecebef" stroke="#aaa8ba" stroke-width="1.0" opacity="0.6"/>
<rect x="299.0" y="275.9" width="4.0" height="3.7" rx="1.9" transform="rotate(106 301.0 277.8)" fill="#ecebef" stroke="#aaa8ba" stroke-width="1.0" opacity="0.6"/>
<rect x="323.3" y="268.6" width="4.5" height="4.8" rx="2.4" transform="rotate(17 325.6 271.1)" fill="#ecebef" stroke="#aaa8ba" stroke-width="1.0" opacity="0.6"/>
<rect x="253.7" y="266.3" width="4.6" height="4.8" rx="2.4" transform="rotate(151 256.0 268.7)" fill="#ecebef" stroke="#aaa8ba" stroke-width="1.0" opacity="0.6"/>
<rect x="310.4" y="359.0" width="6.9" height="4.7" rx="2.3" transform="rotate(171 313.8 361.3)" fill="#ecebef" stroke="#aaa8ba" stroke-width="1.0" opacity="0.6"/>
<rect x="291.0" y="345.1" width="7.7" height="4.9" rx="2.5" transform="rotate(19 294.8 347.5)" fill="#ecebef" stroke="#aaa8ba" stroke-width="1.0" opacity="0.6"/>
<rect x="238.1" y="301.0" width="8.1" height="3.9" rx="1.9" transform="rotate(101 242.2 303.0)" fill="#ecebef" stroke="#aaa8ba" stroke-width="1.0" opacity="0.6"/>
<rect x="252.1" y="292.5" width="7.8" height="4.1" rx="2.0" transform="rotate(111 256.0 294.5)" fill="#ecebef" stroke="#aaa8ba" stroke-width="1.0" opacity="0.6"/>
<rect x="274.9" y="309.4" width="6.1" height="3.6" rx="1.8" transform="rotate(63 278.0 311.2)" fill="#ecebef" stroke="#aaa8ba" stroke-width="1.0" opacity="0.6"/>
<rect x="289.7" y="375.1" width="7.7" height="3.7" rx="1.9" transform="rotate(74 293.5 376.9)" fill="#ecebef" stroke="#aaa8ba" stroke-width="1.0" opacity="0.6"/>
<rect x="312.5" y="350.1" width="6.6" height="4.2" rx="2.1" transform="rotate(121 315.8 352.2)" fill="#ecebef" stroke="#aaa8ba" stroke-width="1.0" opacity="0.6"/>
<rect x="308.0" y="366.0" width="4.5" height="4.6" rx="2.3" transform="rotate(27 310.2 368.3)" fill="#ecebef" stroke="#aaa8ba" stroke-width="1.0" opacity="0.6"/>
<rect x="338.4" y="323.1" width="7.6" height="3.8" rx="1.9" transform="rotate(80 342.2 325.0)" fill="#ecebef" stroke="#aaa8ba" stroke-width="1.0" opacity="0.6"/>
<rect x="263.5" y="286.8" width="5.6" height="3.8" rx="1.9" transform="rotate(105 266.3 288.7)" fill="#ecebef" stroke="#aaa8ba" stroke-width="1.0" opacity="0.6"/>
<rect x="312.1" y="372.6" width="7.5" height="4.1" rx="2.1" transform="rotate(53 315.9 374.7)" fill="#ecebef" stroke="#aaa8ba" stroke-width="1.0" opacity="0.6"/>
<rect x="332.3" y="330.9" width="5.1" height="3.5" rx="1.8" transform="rotate(48 334.9 332.6)" fill="#ecebef" stroke="#aaa8ba" stroke-width="1.0" opacity="0.6"/>
<rect x="288.2" y="307.6" width="5.8" height="4.0" rx="2.0" transform="rotate(31 291.1 309.6)" fill="#ecebef" stroke="#aaa8ba" stroke-width="1.0" opacity="0.6"/>
<rect x="322.4" y="280.2" width="6.4" height="4.4" rx="2.2" transform="rotate(178 325.6 282.4)" fill="#ecebef" stroke="#aaa8ba" stroke-width="1.0" opacity="0.6"/>
<rect x="286.4" y="359.0" width="6.8" height="4.2" rx="2.1" transform="rotate(148 289.8 361.1)" fill="#ecebef" stroke="#aaa8ba" stroke-width="1.0" opacity="0.6"/>
<rect x="315.5" y="361.2" width="7.7" height="4.9" rx="2.5" transform="rotate(72 319.3 363.7)" fill="#ecebef" stroke="#aaa8ba" stroke-width="1.0" opacity="0.6"/>
<rect x="285.9" y="289.9" width="7.6" height="4.5" rx="2.3" transform="rotate(42 289.7 292.2)" fill="#ecebef" stroke="#aaa8ba" stroke-width="1.0" opacity="0.6"/>
<rect x="344.7" y="361.4" width="4.9" height="3.9" rx="1.9" transform="rotate(44 347.2 363.3)" fill="#ecebef" stroke="#aaa8ba" stroke-width="1.0" opacity="0.6"/>
<rect x="331.3" y="366.6" width="8.3" height="4.0" rx="2.0" transform="rotate(46 335.5 368.6)" fill="#ecebef" stroke="#aaa8ba" stroke-width="1.0" opacity="0.6"/>
<rect x="282.3" y="346.7" width="4.5" height="4.8" rx="2.4" transform="rotate(15 284.5 349.1)" fill="#ecebef" stroke="#aaa8ba" stroke-width="1.0" opacity="0.6"/>
<rect x="265.4" y="304.9" width="7.4" height="3.5" rx="1.8" transform="rotate(104 269.1 306.7)" fill="#ecebef" stroke="#aaa8ba" stroke-width="1.0" opacity="0.6"/>
<rect x="271.6" y="313.5" width="5.1" height="4.4" rx="2.2" transform="rotate(87 274.2 315.7)" fill="#ecebef" stroke="#aaa8ba" stroke-width="1.0" opacity="0.6"/>
<rect x="344.5" y="308.6" width="4.6" height="3.9" rx="2.0" transform="rotate(98 346.8 310.6)" fill="#ecebef" stroke="#aaa8ba" stroke-width="1.0" opacity="0.6"/>
<rect x="308.6" y="277.0" width="8.5" height="3.6" rx="1.8" transform="rotate(160 312.9 278.8)" fill="#ecebef" stroke="#aaa8ba" stroke-width="1.0" opacity="0.6"/>
<rect x="341.2" y="306.7" width="7.8" height="3.9" rx="2.0" transform="rotate(139 345.1 308.7)" fill="#ecebef" stroke="#aaa8ba" stroke-width="1.0" opacity="0.6"/>
<rect x="311.4" y="338.2" width="5.3" height="4.6" rx="2.3" transform="rotate(145 314.1 340.6)" fill="#ecebef" stroke="#aaa8ba" stroke-width="1.0" opacity="0.6"/>
<rect x="345.2" y="340.6" width="4.6" height="4.2" rx="2.1" transform="rotate(96 347.5 342.7)" fill="#ecebef" stroke="#aaa8ba" stroke-width="1.0" opacity="0.6"/>
<rect x="272.8" y="346.0" width="6.8" height="3.8" rx="1.9" transform="rotate(122 276.2 347.9)" fill="#ecebef" stroke="#aaa8ba" stroke-width="1.0" opacity="0.6"/>
<rect x="306.3" y="335.7" width="8.4" height="4.5" rx="2.2" transform="rotate(32 310.5 337.9)" fill="#ecebef" stroke="#aaa8ba" stroke-width="1.0" opacity="0.6"/>
<rect x="248.0" y="301.6" width="7.0" height="4.3" rx="2.2" transform="rotate(130 251.5 303.8)" fill="#ecebef" stroke="#aaa8ba" stroke-width="1.0" opacity="0.6"/>
<rect x="308.3" y="316.4" width="4.9" height="3.6" rx="1.8" transform="rotate(56 310.8 318.2)" fill="#ecebef" stroke="#aaa8ba" stroke-width="1.0" opacity="0.6"/>
<rect x="314.9" y="350.0" width="7.7" height="4.0" rx="2.0" transform="rotate(98 318.8 352.0)" fill="#ecebef" stroke="#aaa8ba" stroke-width="1.0" opacity="0.6"/>
<rect x="264.0" y="307.6" width="4.2" height="4.3" rx="2.1" transform="rotate(157 266.1 309.7)" fill="#ecebef" stroke="#aaa8ba" stroke-width="1.0" opacity="0.6"/>
<rect x="273.1" y="301.6" width="6.7" height="4.7" rx="2.3" transform="rotate(73 276.4 303.9)" fill="#ecebef" stroke="#aaa8ba" stroke-width="1.0" opacity="0.6"/>
<rect x="245.8" y="294.5" width="4.6" height="4.7" rx="2.3" transform="rotate(18 248.1 296.8)" fill="#ecebef" stroke="#aaa8ba" stroke-width="1.0" opacity="0.6"/>
<rect x="317.1" y="284.8" width="6.1" height="4.6" rx="2.3" transform="rotate(34 320.1 287.1)" fill="#ecebef" stroke="#aaa8ba" stroke-width="1.0" opacity="0.6"/>
<rect x="328.1" y="349.3" width="4.7" height="4.1" rx="2.0" transform="rotate(106 330.4 351.4)" fill="#ecebef" stroke="#aaa8ba" stroke-width="1.0" opacity="0.6"/>
<rect x="255.2" y="324.2" width="5.0" height="3.9" rx="1.9" transform="rotate(102 257.7 326.1)" fill="#ecebef" stroke="#aaa8ba" stroke-width="1.0" opacity="0.6"/>
<rect x="322.2" y="267.0" width="8.5" height="4.9" rx="2.5" transform="rotate(144 326.5 269.4)" fill="#ecebef" stroke="#aaa8ba" stroke-width="1.0" opacity="0.6"/>
<rect x="276.2" y="326.5" width="7.2" height="5.0" rx="2.5" transform="rotate(105 279.8 329.0)" fill="#ecebef" stroke="#aaa8ba" stroke-width="1.0" opacity="0.6"/>
<rect x="312.1" y="297.9" width="6.4" height="4.4" rx="2.2" transform="rotate(155 315.3 300.1)" fill="#ecebef" stroke="#aaa8ba" stroke-width="1.0" opacity="0.6"/>
<rect x="316.4" y="264.2" width="7.3" height="4.2" rx="2.1" transform="rotate(139 320.0 266.3)" fill="#ecebef" stroke="#aaa8ba" stroke-width="1.0" opacity="0.6"/>
<rect x="292.9" y="316.7" width="6.6" height="3.6" rx="1.8" transform="rotate(35 296.3 318.5)" fill="#ecebef" stroke="#aaa8ba" stroke-width="1.0" opacity="0.6"/>
<rect x="290.1" y="337.2" width="6.8" height="4.9" rx="2.5" transform="rotate(80 293.6 339.6)" fill="#ecebef" stroke="#aaa8ba" stroke-width="1.0" opacity="0.6"/>
<rect x="335.8" y="279.7" width="7.1" height="3.6" rx="1.8" transform="rotate(143 339.4 281.5)" fill="#ecebef" stroke="#aaa8ba" stroke-width="1.0" opacity="0.6"/>
<rect x="273.8" y="290.2" width="6.7" height="4.9" rx="2.4" transform="rotate(14 277.1 292.6)" fill="#ecebef" stroke="#aaa8ba" stroke-width="1.0" opacity="0.6"/>
<rect x="312.8" y="278.9" width="7.0" height="4.9" rx="2.4" transform="rotate(154 316.3 281.3)" fill="#ecebef" stroke="#aaa8ba" stroke-width="1.0" opacity="0.6"/>
<rect x="314.7" y="347.9" width="8.0" height="4.9" rx="2.4" transform="rotate(62 318.8 350.3)" fill="#ecebef" stroke="#aaa8ba" stroke-width="1.0" opacity="0.6"/>
<rect x="332.6" y="314.0" width="6.4" height="3.7" rx="1.8" transform="rotate(136 335.8 315.8)" fill="#ecebef" stroke="#aaa8ba" stroke-width="1.0" opacity="0.6"/>
<rect x="237.6" y="272.8" width="4.8" height="4.2" rx="2.1" transform="rotate(36 240.0 274.9)" fill="#ecebef" stroke="#aaa8ba" stroke-width="1.0" opacity="0.6"/>
<rect x="313.2" y="325.3" width="7.2" height="4.0" rx="2.0" transform="rotate(76 316.8 327.3)" fill="#ecebef" stroke="#aaa8ba" stroke-width="1.0" opacity="0.6"/>
<rect x="286.9" y="349.9" width="4.9" height="4.8" rx="2.4" transform="rotate(72 289.3 352.3)" fill="#ecebef" stroke="#aaa8ba" stroke-width="1.0" opacity="0.6"/>
<rect x="315.9" y="305.6" width="6.6" height="4.4" rx="2.2" transform="rotate(67 319.2 307.8)" fill="#ecebef" stroke="#aaa8ba" stroke-width="1.0" opacity="0.6"/>
<rect x="257.2" y="264.5" width="7.9" height="3.7" rx="1.9" transform="rotate(38 261.2 266.3)" fill="#ecebef" stroke="#aaa8ba" stroke-width="1.0" opacity="0.6"/>
<rect x="286.4" y="286.2" width="4.9" height="4.1" rx="2.1" transform="rotate(38 288.8 288.3)" fill="#ecebef" stroke="#aaa8ba" stroke-width="1.0" opacity="0.6"/>
<rect x="252.3" y="267.0" width="4.8" height="4.2" rx="2.1" transform="rotate(20 254.7 269.1)" fill="#ecebef" stroke="#aaa8ba" stroke-width="1.0" opacity="0.6"/>
<rect x="239.0" y="266.3" width="6.0" height="4.6" rx="2.3" transform="rotate(81 242.0 268.6)" fill="#ecebef" stroke="#aaa8ba" stroke-width="1.0" opacity="0.6"/>
<rect x="238.9" y="309.5" width="4.1" height="4.9" rx="2.5" transform="rotate(71 241.0 312.0)" fill="#ecebef" stroke="#aaa8ba" stroke-width="1.0" opacity="0.6"/>
<rect x="258.2" y="274.5" width="4.8" height="4.4" rx="2.2" transform="rotate(85 260.6 276.7)" fill="#ecebef" stroke="#aaa8ba" stroke-width="1.0" opacity="0.6"/>
<rect x="271.7" y="278.2" width="7.6" height="3.9" rx="2.0" transform="rotate(9 275.5 280.1)" fill="#ecebef" stroke="#aaa8ba" stroke-width="1.0" opacity="0.6"/>
<rect x="324.4" y="317.1" width="5.5" height="3.9" rx="1.9" transform="rotate(168 327.2 319.1)" fill="#ecebef" stroke="#aaa8ba" stroke-width="1.0" opacity="0.6"/>
<rect x="304.9" y="302.8" width="7.4" height="5.0" rx="2.5" transform="rotate(17 308.6 305.3)" fill="#ecebef" stroke="#aaa8ba" stroke-width="1.0" opacity="0.6"/>
<rect x="302.1" y="264.5" width="4.5" height="3.8" rx="1.9" transform="rotate(5 304.3 266.4)" fill="#ecebef" stroke="#aaa8ba" stroke-width="1.0" opacity="0.6"/>
<rect x="235.0" y="270.2" width="8.5" height="3.8" rx="1.9" transform="rotate(118 239.3 272.1)" fill="#ecebef" stroke="#aaa8ba" stroke-width="1.0" opacity="0.6"/>
<rect x="344.6" y="317.9" width="8.6" height="4.9" rx="2.5" transform="rotate(145 348.9 320.4)" fill="#ecebef" stroke="#aaa8ba" stroke-width="1.0" opacity="0.6"/>
<rect x="234.6" y="298.9" width="8.7" height="3.6" rx="1.8" transform="rotate(109 239.0 300.7)" fill="#ecebef" stroke="#aaa8ba" stroke-width="1.0" opacity="0.6"/>
<rect x="244.7" y="308.0" width="7.4" height="4.9" rx="2.4" transform="rotate(60 248.4 310.4)" fill="#ecebef" stroke="#aaa8ba" stroke-width="1.0" opacity="0.6"/>
<rect x="316.6" y="359.2" width="8.6" height="4.0" rx="2.0" transform="rotate(100 320.9 361.3)" fill="#ecebef" stroke="#aaa8ba" stroke-width="1.0" opacity="0.6"/>
<rect x="280.3" y="290.2" width="6.4" height="3.9" rx="2.0" transform="rotate(140 283.5 292.2)" fill="#ecebef" stroke="#aaa8ba" stroke-width="1.0" opacity="0.6"/>
<rect x="302.6" y="345.1" width="6.4" height="3.7" rx="1.9" transform="rotate(70 305.9 347.0)" fill="#ecebef" stroke="#aaa8ba" stroke-width="1.0" opacity="0.6"/>
<rect x="314.3" y="266.4" width="7.8" height="4.5" rx="2.3" transform="rotate(84 318.2 268.6)" fill="#ecebef" stroke="#aaa8ba" stroke-width="1.0" opacity="0.6"/>
<rect x="242.8" y="290.6" width="7.2" height="4.8" rx="2.4" transform="rotate(152 246.4 293.0)" fill="#ecebef" stroke="#aaa8ba" stroke-width="1.0" opacity="0.6"/>
<rect x="333.2" y="315.3" width="7.7" height="4.0" rx="2.0" transform="rotate(161 337.1 317.3)" fill="#ecebef" stroke="#aaa8ba" stroke-width="1.0" opacity="0.6"/>
<rect x="273.9" y="272.4" width="8.8" height="3.7" rx="1.8" transform="rotate(72 278.3 274.2)" fill="#ecebef" stroke="#aaa8ba" stroke-width="1.0" opacity="0.6"/>
<rect x="297.9" y="276.6" width="7.2" height="3.9" rx="1.9" transform="rotate(15 301.6 278.6)" fill="#ecebef" stroke="#aaa8ba" stroke-width="1.0" opacity="0.6"/>
<rect x="237.2" y="281.6" width="6.9" height="3.5" rx="1.8" transform="rotate(116 240.7 283.4)" fill="#ecebef" stroke="#aaa8ba" stroke-width="1.0" opacity="0.6"/>
<rect x="256.8" y="327.9" width="7.9" height="4.4" rx="2.2" transform="rotate(75 260.7 330.1)" fill="#ecebef" stroke="#aaa8ba" stroke-width="1.0" opacity="0.6"/>
<rect x="324.8" y="325.2" width="4.9" height="3.6" rx="1.8" transform="rotate(34 327.3 327.0)" fill="#ecebef" stroke="#aaa8ba" stroke-width="1.0" opacity="0.6"/>
<rect x="327.2" y="276.9" width="8.8" height="3.8" rx="1.9" transform="rotate(4 331.6 278.8)" fill="#ecebef" stroke="#aaa8ba" stroke-width="1.0" opacity="0.6"/>
<rect x="337.0" y="273.4" width="5.1" height="4.7" rx="2.4" transform="rotate(84 339.5 275.8)" fill="#ecebef" stroke="#aaa8ba" stroke-width="1.0" opacity="0.6"/>
<rect x="302.8" y="337.2" width="8.4" height="4.0" rx="2.0" transform="rotate(137 307.0 339.2)" fill="#ecebef" stroke="#aaa8ba" stroke-width="1.0" opacity="0.6"/>
<rect x="301.5" y="314.6" width="8.2" height="4.4" rx="2.2" transform="rotate(20 305.6 316.8)" fill="#ecebef" stroke="#aaa8ba" stroke-width="1.0" opacity="0.6"/>
<rect x="327.2" y="287.2" width="6.3" height="4.6" rx="2.3" transform="rotate(97 330.3 289.5)" fill="#ecebef" stroke="#aaa8ba" stroke-width="1.0" opacity="0.6"/>
<rect x="241.9" y="303.3" width="4.4" height="4.3" rx="2.2" transform="rotate(87 244.0 305.5)" fill="#ecebef" stroke="#aaa8ba" stroke-width="1.0" opacity="0.6"/>
<rect x="317.5" y="312.3" width="7.0" height="3.8" rx="1.9" transform="rotate(117 321.0 314.2)" fill="#ecebef" stroke="#aaa8ba" stroke-width="1.0" opacity="0.6"/>
<rect x="271.7" y="313.2" width="5.1" height="3.7" rx="1.9" transform="rotate(15 274.2 315.1)" fill="#ecebef" stroke="#aaa8ba" stroke-width="1.0" opacity="0.6"/>
<rect x="339.5" y="346.6" width="8.9" height="4.4" rx="2.2" transform="rotate(157 343.9 348.8)" fill="#ecebef" stroke="#aaa8ba" stroke-width="1.0" opacity="0.6"/>
<rect x="339.6" y="324.6" width="8.7" height="4.9" rx="2.4" transform="rotate(75 344.0 327.1)" fill="#ecebef" stroke="#aaa8ba" stroke-width="1.0" opacity="0.6"/>
<rect x="343.1" y="318.7" width="6.0" height="5.0" rx="2.5" transform="rotate(139 346.1 321.2)" fill="#ecebef" stroke="#aaa8ba" stroke-width="1.0" opacity="0.6"/>
<rect x="340.2" y="297.5" width="4.9" height="3.6" rx="1.8" transform="rotate(168 342.7 299.3)" fill="#ecebef" stroke="#aaa8ba" stroke-width="1.0" opacity="0.6"/>
<rect x="315.9" y="297.8" width="7.2" height="3.6" rx="1.8" transform="rotate(93 319.5 299.5)" fill="#ecebef" stroke="#aaa8ba" stroke-width="1.0" opacity="0.6"/>
<rect x="319.3" y="295.2" width="5.7" height="4.6" rx="2.3" transform="rotate(78 322.2 297.5)" fill="#ecebef" stroke="#aaa8ba" stroke-width="1.0" opacity="0.6"/>
<rect x="319.6" y="296.7" width="5.5" height="4.1" rx="2.1" transform="rotate(19 322.4 298.8)" fill="#ecebef" stroke="#aaa8ba" stroke-width="1.0" opacity="0.6"/>
<rect x="240.3" y="281.0" width="7.5" height="5.0" rx="2.5" transform="rotate(137 244.1 283.5)" fill="#ecebef" stroke="#aaa8ba" stroke-width="1.0" opacity="0.6"/>
<rect x="347.2" y="363.9" width="4.8" height="4.0" rx="2.0" transform="rotate(67 349.6 365.9)" fill="#ecebef" stroke="#aaa8ba" stroke-width="1.0" opacity="0.6"/>
<rect x="286.3" y="323.6" width="5.8" height="4.8" rx="2.4" transform="rotate(98 289.2 326.0)" fill="#ecebef" stroke="#aaa8ba" stroke-width="1.0" opacity="0.6"/>
<rect x="264.3" y="316.8" width="8.0" height="3.9" rx="2.0" transform="rotate(160 268.4 318.8)" fill="#ecebef" stroke="#aaa8ba" stroke-width="1.0" opacity="0.6"/>
<rect x="232.8" y="279.1" width="6.7" height="3.7" rx="1.9" transform="rotate(96 236.2 281.0)" fill="#ecebef" stroke="#aaa8ba" stroke-width="1.0" opacity="0.6"/>
<rect x="237.7" y="286.8" width="6.3" height="5.0" rx="2.5" transform="rotate(139 240.9 289.2)" fill="#ecebef" stroke="#aaa8ba" stroke-width="1.0" opacity="0.6"/>
<rect x="324.4" y="375.9" width="4.9" height="3.5" rx="1.8" transform="rotate(6 326.9 377.6)" fill="#ecebef" stroke="#aaa8ba" stroke-width="1.0" opacity="0.6"/>
<rect x="282.2" y="302.7" width="6.7" height="3.6" rx="1.8" transform="rotate(9 285.6 304.6)" fill="#ecebef" stroke="#aaa8ba" stroke-width="1.0" opacity="0.6"/>
<rect x="268.4" y="292.2" width="6.1" height="3.9" rx="1.9" transform="rotate(144 271.5 294.2)" fill="#ecebef" stroke="#aaa8ba" stroke-width="1.0" opacity="0.6"/>
<rect x="236.5" y="312.5" width="7.4" height="4.9" rx="2.4" transform="rotate(113 240.1 315.0)" fill="#ecebef" stroke="#aaa8ba" stroke-width="1.0" opacity="0.6"/>
<rect x="325.7" y="291.9" width="7.8" height="4.7" rx="2.3" transform="rotate(24 329.6 294.2)" fill="#ecebef" stroke="#aaa8ba" stroke-width="1.0" opacity="0.6"/>
<rect x="291.8" y="358.9" width="5.4" height="3.8" rx="1.9" transform="rotate(99 294.5 360.7)" fill="#ecebef" stroke="#aaa8ba" stroke-width="1.0" opacity="0.6"/>
<rect x="336.3" y="366.9" width="7.3" height="4.9" rx="2.4" transform="rotate(84 339.9 369.3)" fill="#ecebef" stroke="#aaa8ba" stroke-width="1.0" opacity="0.6"/>
<rect x="326.9" y="332.8" width="6.6" height="3.8" rx="1.9" transform="rotate(75 330.2 334.7)" fill="#ecebef" stroke="#aaa8ba" stroke-width="1.0" opacity="0.6"/>
<rect x="348.2" y="326.3" width="5.8" height="4.2" rx="2.1" transform="rotate(73 351.1 328.4)" fill="#ecebef" stroke="#aaa8ba" stroke-width="1.0" opacity="0.6"/>
<rect x="326.6" y="315.6" width="4.8" height="4.0" rx="2.0" transform="rotate(173 328.9 317.6)" fill="#ecebef" stroke="#aaa8ba" stroke-width="1.0" opacity="0.6"/>
<rect x="292.0" y="310.5" width="8.1" height="4.9" rx="2.4" transform="rotate(153 296.1 313.0)" fill="#ecebef" stroke="#aaa8ba" stroke-width="1.0" opacity="0.6"/>
<rect x="303.3" y="267.4" width="6.7" height="4.2" rx="2.1" transform="rotate(103 306.7 269.5)" fill="#ecebef" stroke="#aaa8ba" stroke-width="1.0" opacity="0.6"/>
<rect x="265.5" y="344.6" width="4.5" height="4.5" rx="2.3" transform="rotate(164 267.7 346.9)" fill="#ecebef" stroke="#aaa8ba" stroke-width="1.0" opacity="0.6"/>
<rect x="274.0" y="322.5" width="8.8" height="4.5" rx="2.2" transform="rotate(161 278.4 324.7)" fill="#ecebef" stroke="#aaa8ba" stroke-width="1.0" opacity="0.6"/>
<rect x="253.4" y="307.7" width="5.6" height="3.9" rx="2.0" transform="rotate(149 256.2 309.7)" fill="#ecebef" stroke="#aaa8ba" stroke-width="1.0" opacity="0.6"/>
<rect x="343.2" y="371.6" width="6.0" height="3.9" rx="2.0" transform="rotate(57 346.1 373.6)" fill="#ecebef" stroke="#aaa8ba" stroke-width="1.0" opacity="0.6"/>
<rect x="248.2" y="292.6" width="4.4" height="3.8" rx="1.9" transform="rotate(176 250.4 294.5)" fill="#ecebef" stroke="#aaa8ba" stroke-width="1.0" opacity="0.6"/>
<rect x="254.5" y="272.7" width="7.7" height="4.8" rx="2.4" transform="rotate(95 258.4 275.1)" fill="#ecebef" stroke="#aaa8ba" stroke-width="1.0" opacity="0.6"/>
<rect x="306.1" y="356.8" width="5.4" height="4.9" rx="2.5" transform="rotate(1 308.8 359.2)" fill="#ecebef" stroke="#aaa8ba" stroke-width="1.0" opacity="0.6"/>
<rect x="240.4" y="294.3" width="5.3" height="4.3" rx="2.2" transform="rotate(87 243.1 296.5)" fill="#ecebef" stroke="#aaa8ba" stroke-width="1.0" opacity="0.6"/>
<rect x="238.2" y="290.5" width="4.7" height="4.9" rx="2.4" transform="rotate(172 240.5 292.9)" fill="#ecebef" stroke="#aaa8ba" stroke-width="1.0" opacity="0.6"/>
<rect x="311.8" y="337.4" width="4.3" height="4.6" rx="2.3" transform="rotate(26 313.9 339.8)" fill="#ecebef" stroke="#aaa8ba" stroke-width="1.0" opacity="0.6"/>
<rect x="251.4" y="285.8" width="8.4" height="3.6" rx="1.8" transform="rotate(148 255.6 287.6)" fill="#ecebef" stroke="#aaa8ba" stroke-width="1.0" opacity="0.6"/>
<rect x="345.1" y="324.9" width="4.5" height="4.1" rx="2.0" transform="rotate(69 347.4 327.0)" fill="#ecebef" stroke="#aaa8ba" stroke-width="1.0" opacity="0.6"/>
<rect x="348.2" y="296.2" width="4.7" height="3.7" rx="1.8" transform="rotate(24 350.5 298.0)" fill="#ecebef" stroke="#aaa8ba" stroke-width="1.0" opacity="0.6"/>
<rect x="239.5" y="285.4" width="9.0" height="5.0" rx="2.5" transform="rotate(169 244.0 287.9)" fill="#ecebef" stroke="#aaa8ba" stroke-width="1.0" opacity="0.6"/>
<rect x="260.6" y="304.1" width="6.4" height="4.6" rx="2.3" transform="rotate(171 263.8 306.4)" fill="#ecebef" stroke="#aaa8ba" stroke-width="1.0" opacity="0.6"/>
<rect x="267.8" y="266.1" width="7.7" height="4.7" rx="2.3" transform="rotate(62 271.7 268.4)" fill="#ecebef" stroke="#aaa8ba" stroke-width="1.0" opacity="0.6"/>
<rect x="298.5" y="316.8" width="6.2" height="4.3" rx="2.2" transform="rotate(97 301.6 318.9)" fill="#ecebef" stroke="#aaa8ba" stroke-width="1.0" opacity="0.6"/>
<rect x="328.1" y="286.5" width="8.7" height="4.8" rx="2.4" transform="rotate(107 332.5 288.9)" fill="#ecebef" stroke="#aaa8ba" stroke-width="1.0" opacity="0.6"/>
<rect x="330.8" y="283.4" width="5.0" height="3.6" rx="1.8" transform="rotate(48 333.3 285.1)" fill="#ecebef" stroke="#aaa8ba" stroke-width="1.0" opacity="0.6"/>
<rect x="347.2" y="310.9" width="4.6" height="3.5" rx="1.8" transform="rotate(157 349.5 312.7)" fill="#ecebef" stroke="#aaa8ba" stroke-width="1.0" opacity="0.6"/>
<rect x="333.1" y="354.4" width="7.4" height="4.3" rx="2.1" transform="rotate(178 336.8 356.5)" fill="#ecebef" stroke="#aaa8ba" stroke-width="1.0" opacity="0.6"/>
<rect x="321.5" y="274.7" width="6.2" height="3.7" rx="1.9" transform="rotate(97 324.6 276.5)" fill="#ecebef" stroke="#aaa8ba" stroke-width="1.0" opacity="0.6"/>
<rect x="302.3" y="300.9" width="5.9" height="4.0" rx="2.0" transform="rotate(91 305.2 302.8)" fill="#ecebef" stroke="#aaa8ba" stroke-width="1.0" opacity="0.6"/>
<rect x="272.6" y="332.1" width="8.7" height="4.8" rx="2.4" transform="rotate(176 276.9 334.5)" fill="#ecebef" stroke="#aaa8ba" stroke-width="1.0" opacity="0.6"/>
<rect x="330.0" y="296.9" width="5.3" height="3.7" rx="1.8" transform="rotate(176 332.7 298.7)" fill="#ecebef" stroke="#aaa8ba" stroke-width="1.0" opacity="0.6"/>
<rect x="290.0" y="347.5" width="7.2" height="3.9" rx="2.0" transform="rotate(61 293.6 349.5)" fill="#ecebef" stroke="#aaa8ba" stroke-width="1.0" opacity="0.6"/>
<rect x="344.8" y="315.2" width="6.7" height="4.8" rx="2.4" transform="rotate(86 348.1 317.6)" fill="#ecebef" stroke="#aaa8ba" stroke-width="1.0" opacity="0.6"/>
<rect x="346.9" y="324.4" width="7.1" height="3.6" rx="1.8" transform="rotate(79 350.4 326.2)" fill="#ecebef" stroke="#aaa8ba" stroke-width="1.0" opacity="0.6"/>
<rect x="282.6" y="360.2" width="4.3" height="4.8" rx="2.4" transform="rotate(140 284.8 362.6)" fill="#ecebef" stroke="#aaa8ba" stroke-width="1.0" opacity="0.6"/>
<rect x="273.7" y="288.4" width="8.4" height="4.1" rx="2.1" transform="rotate(99 277.9 290.5)" fill="#ecebef" stroke="#aaa8ba" stroke-width="1.0" opacity="0.6"/>
<rect x="333.7" y="345.0" width="5.5" height="4.3" rx="2.1" transform="rotate(65 336.5 347.1)" fill="#ecebef" stroke="#aaa8ba" stroke-width="1.0" opacity="0.6"/>
<rect x="277.5" y="306.3" width="8.4" height="4.4" rx="2.2" transform="rotate(117 281.7 308.5)" fill="#ecebef" stroke="#aaa8ba" stroke-width="1.0" opacity="0.6"/>
<rect x="248.6" y="289.2" width="7.1" height="3.7" rx="1.9" transform="rotate(67 252.1 291.1)" fill="#ecebef" stroke="#aaa8ba" stroke-width="1.0" opacity="0.6"/>
<rect x="242.5" y="300.4" width="4.1" height="4.3" rx="2.2" transform="rotate(51 244.5 302.6)" fill="#ecebef" stroke="#aaa8ba" stroke-width="1.0" opacity="0.6"/>
<rect x="338.7" y="324.5" width="8.1" height="4.8" rx="2.4" transform="rotate(133 342.8 326.9)" fill="#ecebef" stroke="#aaa8ba" stroke-width="1.0" opacity="0.6"/>
<rect x="339.5" y="313.9" width="4.6" height="4.8" rx="2.4" transform="rotate(123 341.8 316.3)" fill="#ecebef" stroke="#aaa8ba" stroke-width="1.0" opacity="0.6"/>
<rect x="276.5" y="318.3" width="5.4" height="3.8" rx="1.9" transform="rotate(160 279.3 320.2)" fill="#ecebef" stroke="#aaa8ba" stroke-width="1.0" opacity="0.6"/>
<rect x="329.3" y="332.3" width="4.1" height="4.0" rx="2.0" transform="rotate(15 331.4 334.3)" fill="#ecebef" stroke="#aaa8ba" stroke-width="1.0" opacity="0.6"/>
<rect x="253.2" y="295.2" width="6.6" height="4.1" rx="2.1" transform="rotate(70 256.5 297.3)" fill="#ecebef" stroke="#aaa8ba" stroke-width="1.0" opacity="0.6"/>
<rect x="306.3" y="338.7" width="4.5" height="5.0" rx="2.5" transform="rotate(78 308.6 341.2)" fill="#ecebef" stroke="#aaa8ba" stroke-width="1.0" opacity="0.6"/>
<rect x="312.0" y="273.0" width="7.8" height="5.0" rx="2.5" transform="rotate(79 315.9 275.5)" fill="#ecebef" stroke="#aaa8ba" stroke-width="1.0" opacity="0.6"/>
</g>
<rect x="237.5" y="268.7" width="112" height="108.3" filter="url(#nV)"/>
<g filter="url(#bl1)"><path d="M237 315 Q252 338 262 350 Q276 364 290 378 H237 Z" fill="#ece8e1"/></g>
<g filter="url(#bl1)" fill="none" stroke="#f8f5ef" stroke-linecap="round" stroke-linejoin="round">
<path d="M313 268 L309 282 L304 296 L297 310 L297 322 L300 340 L304 356 L306 364" stroke-width="4.2"/>
<path d="M297 314 L282 313 L266 312 L256 314" stroke-width="3.4"/>
<path d="M297 312 L286 302 L274 292 L262 285" stroke-width="4"/>
<path d="M305 292 L318 285 L330 275" stroke-width="2.6"/>
<path d="M300 338 L290 348 L284 354" stroke-width="2"/>
</g>
<g filter="url(#bl05)">
<ellipse cx="300.5" cy="295.5" rx="1.0" ry="2.3" fill="#8a5030" opacity="0.75" transform="rotate(-30 300.5 295.5)"/>
<ellipse cx="292.5" cy="307.8" rx="1.1" ry="1.6" fill="#7a4020" opacity="0.75" transform="rotate(0 292.5 307.8)"/>
<ellipse cx="308.6" cy="322.2" rx="1.3" ry="1.6" fill="#9a5a30" opacity="0.7" transform="rotate(0 308.6 322.2)"/>
<ellipse cx="276" cy="284" rx="0.8" ry="1.3" fill="#a07050" opacity="0.4" transform="rotate(0 276 284)"/>
</g>
</g>
<text x="0.4" y="262" font-size="12.5" fill="#111" stroke="#111" stroke-width="0.22">C</text>
<text x="56.5" y="264.2" font-size="9.2" text-anchor="middle" fill="#111" stroke="#111" stroke-width="0.22">Control</text>
<text x="174.2" y="264.2" font-size="9.2" text-anchor="middle" fill="#111" stroke="#111" stroke-width="0.22">Neomycin</text>
<text x="295" y="264.2" font-size="9.2" text-anchor="middle" fill="#111" stroke="#111" stroke-width="0.22">Vancomycin</text>
<text x="361.3" y="261.7" font-size="12.5" fill="#111" stroke="#111" stroke-width="0.22">D</text>
<path d="M402.8 270.4 V386.7 H465.4" fill="none" stroke="#000" stroke-width="1.4"/>
<line x1="400.8" y1="386.7" x2="402.8" y2="386.7" stroke="#111" stroke-width="1"/>
<text x="400" y="389.6" font-size="8.3" text-anchor="end" fill="#222" stroke="#222" stroke-width="0.22">0</text>
<line x1="400.8" y1="363.5" x2="402.8" y2="363.5" stroke="#111" stroke-width="1"/>
<text x="400" y="366.4" font-size="8.3" text-anchor="end" fill="#222" stroke="#222" stroke-width="0.22">2</text>
<line x1="400.8" y1="340.3" x2="402.8" y2="340.3" stroke="#111" stroke-width="1"/>
<text x="400" y="343.2" font-size="8.3" text-anchor="end" fill="#222" stroke="#222" stroke-width="0.22">4</text>
<line x1="400.8" y1="317.1" x2="402.8" y2="317.1" stroke="#111" stroke-width="1"/>
<text x="400" y="320.0" font-size="8.3" text-anchor="end" fill="#222" stroke="#222" stroke-width="0.22">6</text>
<line x1="400.8" y1="293.9" x2="402.8" y2="293.9" stroke="#111" stroke-width="1"/>
<text x="400" y="296.8" font-size="8.3" text-anchor="end" fill="#222" stroke="#222" stroke-width="0.22">8</text>
<line x1="400.8" y1="270.7" x2="402.8" y2="270.7" stroke="#111" stroke-width="1"/>
<text x="400" y="273.6" font-size="8.3" text-anchor="end" fill="#222" stroke="#222" stroke-width="0.22">10</text>
<text transform="translate(381 329.4) rotate(-90)" font-size="8.3" text-anchor="middle" fill="#222" stroke="#222" stroke-width="0.22">5-HT Expressing EC cells / 10 crypts</text>
<text x="415.5" y="398" font-size="8.8" text-anchor="middle" fill="#222" stroke="#222" stroke-width="0.22">C</text>
<text x="434.2" y="398" font-size="8.8" text-anchor="middle" fill="#222" stroke="#222" stroke-width="0.22">N</text>
<text x="453.4" y="398" font-size="8.8" text-anchor="middle" fill="#222" stroke="#222" stroke-width="0.22">V</text>
<line x1="415.9" y1="272.9" x2="450.8" y2="272.9" stroke="#000" stroke-width="1.4"/>
<line x1="415.9" y1="283.7" x2="436.1" y2="283.7" stroke="#000" stroke-width="1.4"/>
<circle cx="433.4" cy="267.9" r="1.45" fill="#111"/>
<circle cx="426" cy="279" r="1.45" fill="#111"/>
<circle cx="415.5" cy="291.1" r="2.2" fill="#fff" stroke="#222" stroke-width="0.9"/>
<circle cx="419" cy="308.5" r="2.2" fill="#fff" stroke="#222" stroke-width="0.9"/>
<circle cx="412.1" cy="311.6" r="2.2" fill="#fff" stroke="#222" stroke-width="0.9"/>
<circle cx="411.7" cy="320.1" r="2.2" fill="#fff" stroke="#222" stroke-width="0.9"/>
<circle cx="419" cy="320.6" r="2.2" fill="#fff" stroke="#222" stroke-width="0.9"/>
<circle cx="415.5" cy="323.2" r="2.2" fill="#fff" stroke="#222" stroke-width="0.9"/>
<circle cx="415.5" cy="337.7" r="2.2" fill="#fff" stroke="#222" stroke-width="0.9"/>
<circle cx="434.2" cy="331.5" r="2.2" fill="#777" stroke="#333" stroke-width="0.8"/>
<circle cx="437.6" cy="340.2" r="2.2" fill="#777" stroke="#333" stroke-width="0.8"/>
<circle cx="430.8" cy="342.8" r="2.2" fill="#777" stroke="#333" stroke-width="0.8"/>
<circle cx="433.5" cy="343.8" r="2.2" fill="#777" stroke="#333" stroke-width="0.8"/>
<circle cx="431.1" cy="346.7" r="2.2" fill="#777" stroke="#333" stroke-width="0.8"/>
<circle cx="437.6" cy="349.3" r="2.2" fill="#777" stroke="#333" stroke-width="0.8"/>
<circle cx="434" cy="352.5" r="2.2" fill="#777" stroke="#333" stroke-width="0.8"/>
<circle cx="453.4" cy="334.4" r="2.2" fill="#fff" stroke="#222" stroke-width="0.9"/>
<circle cx="449.5" cy="340.2" r="2.2" fill="#fff" stroke="#222" stroke-width="0.9"/>
<circle cx="457" cy="343.1" r="2.2" fill="#fff" stroke="#222" stroke-width="0.9"/>
<circle cx="453.4" cy="346.4" r="2.2" fill="#fff" stroke="#222" stroke-width="0.9"/>
<line x1="408.6" y1="316.3" x2="422.1" y2="316.3" stroke="#000" stroke-width="1.4"/>
<line x1="428.2" y1="343.4" x2="441.2" y2="343.4" stroke="#000" stroke-width="1.4"/>
<line x1="447.2" y1="341.4" x2="459.9" y2="341.4" stroke="#000" stroke-width="1.4"/>
<text x="0.7" y="419.8" font-size="12.5" fill="#111" stroke="#111" stroke-width="0.22">E</text>
<path d="M31.3 425.4 V552.2 H99.4" fill="none" stroke="#000" stroke-width="1.4"/>
<line x1="29.3" y1="552.2" x2="31.3" y2="552.2" stroke="#111" stroke-width="1"/>
<text x="28.5" y="555.4" font-size="9.2" text-anchor="end" fill="#222" stroke="#222" stroke-width="0.22">0</text>
<line x1="29.3" y1="520.5" x2="31.3" y2="520.5" stroke="#111" stroke-width="1"/>
<text x="28.5" y="523.7" font-size="9.2" text-anchor="end" fill="#222" stroke="#222" stroke-width="0.22">2</text>
<line x1="29.3" y1="488.8" x2="31.3" y2="488.8" stroke="#111" stroke-width="1"/>
<text x="28.5" y="492.0" font-size="9.2" text-anchor="end" fill="#222" stroke="#222" stroke-width="0.22">4</text>
<line x1="29.3" y1="457.2" x2="31.3" y2="457.2" stroke="#111" stroke-width="1"/>
<text x="28.5" y="460.4" font-size="9.2" text-anchor="end" fill="#222" stroke="#222" stroke-width="0.22">6</text>
<line x1="29.3" y1="425.5" x2="31.3" y2="425.5" stroke="#111" stroke-width="1"/>
<text x="28.5" y="428.7" font-size="9.2" text-anchor="end" fill="#222" stroke="#222" stroke-width="0.22">8</text>
<line x1="44.5" y1="447.3" x2="44.5" y2="451.7" stroke="#000" stroke-width="1.2"/>
<line x1="41.2" y1="447.3" x2="47.8" y2="447.3" stroke="#000" stroke-width="1.2"/>
<rect x="37.1" y="451.7" width="14.9" height="100.5" fill="#fff" stroke="#000" stroke-width="1.2"/>
<line x1="65.7" y1="485.2" x2="65.7" y2="491.4" stroke="#000" stroke-width="1.2"/>
<line x1="62.4" y1="485.2" x2="69.0" y2="485.2" stroke="#000" stroke-width="1.2"/>
<rect x="58.2" y="491.4" width="14.9" height="60.8" fill="#3c3c3c" stroke="#000" stroke-width="1.2"/>
<line x1="86.2" y1="537.7" x2="86.2" y2="540.0" stroke="#000" stroke-width="1.2"/>
<line x1="82.9" y1="537.7" x2="89.5" y2="537.7" stroke="#000" stroke-width="1.2"/>
<rect x="78.8" y="540.0" width="14.8" height="12.2" fill="#dcdcdc" stroke="#000" stroke-width="1.2"/>
<text x="44.4" y="566.7" font-size="8.8" text-anchor="middle" fill="#222" stroke="#222" stroke-width="0.22">C</text>
<text x="65.6" y="566.7" font-size="8.8" text-anchor="middle" fill="#222" stroke="#222" stroke-width="0.22">N</text>
<text x="86.5" y="566.7" font-size="8.8" text-anchor="middle" fill="#222" stroke="#222" stroke-width="0.22">V</text>
<text transform="translate(13.8 490.0) rotate(-90)" font-size="9.0" text-anchor="middle" fill="#222" stroke="#222" stroke-width="0.22">5-HT ng/mg tissue</text>
<line x1="45.2" y1="428.1" x2="84.6" y2="428.1" stroke="#000" stroke-width="1.4"/>
<circle cx="64" cy="422.3" r="1.45" fill="#111"/>
<line x1="45.2" y1="440" x2="63.5" y2="440" stroke="#000" stroke-width="1.4"/>
<circle cx="54.4" cy="434.2" r="1.45" fill="#111"/>
<line x1="66.3" y1="478.1" x2="84.6" y2="478.1" stroke="#000" stroke-width="1.4"/>
<circle cx="75.6" cy="471.7" r="1.45" fill="#111"/>
<text x="142" y="419.8" font-size="12.5" fill="#111" stroke="#111" stroke-width="0.22">F</text>
<path d="M173.5 428.6 V552.9 H239.7" fill="none" stroke="#000" stroke-width="1.4"/>
<line x1="171.5" y1="552.9" x2="173.5" y2="552.9" stroke="#111" stroke-width="1"/>
<text x="170.7" y="556.1" font-size="9.2" text-anchor="end" fill="#222" stroke="#222" stroke-width="0.22">0.0</text>
<line x1="171.5" y1="521.9" x2="173.5" y2="521.9" stroke="#111" stroke-width="1"/>
<text x="170.7" y="525.1" font-size="9.2" text-anchor="end" fill="#222" stroke="#222" stroke-width="0.22">0.5</text>
<line x1="171.5" y1="490.8" x2="173.5" y2="490.8" stroke="#111" stroke-width="1"/>
<text x="170.7" y="494.0" font-size="9.2" text-anchor="end" fill="#222" stroke="#222" stroke-width="0.22">1.0</text>
<line x1="171.5" y1="459.8" x2="173.5" y2="459.8" stroke="#111" stroke-width="1"/>
<text x="170.7" y="463.0" font-size="9.2" text-anchor="end" fill="#222" stroke="#222" stroke-width="0.22">1.5</text>
<line x1="171.5" y1="428.8" x2="173.5" y2="428.8" stroke="#111" stroke-width="1"/>
<text x="170.7" y="432.0" font-size="9.2" text-anchor="end" fill="#222" stroke="#222" stroke-width="0.22">2.0</text>
<line x1="186.8" y1="486.2" x2="186.8" y2="490.8" stroke="#000" stroke-width="1.2"/>
<line x1="183.4" y1="486.2" x2="190.1" y2="486.2" stroke="#000" stroke-width="1.2"/>
<rect x="179.9" y="490.8" width="13.7" height="62.1" fill="#fff" stroke="#000" stroke-width="1.2"/>
<line x1="207.2" y1="482.9" x2="207.2" y2="493.4" stroke="#000" stroke-width="1.2"/>
<line x1="203.8" y1="482.9" x2="210.5" y2="482.9" stroke="#000" stroke-width="1.2"/>
<rect x="200.3" y="493.4" width="13.7" height="59.5" fill="#3c3c3c" stroke="#000" stroke-width="1.2"/>
<line x1="227.6" y1="448.4" x2="227.6" y2="474.1" stroke="#000" stroke-width="1.2"/>
<line x1="224.2" y1="448.4" x2="230.9" y2="448.4" stroke="#000" stroke-width="1.2"/>
<rect x="220.7" y="474.1" width="13.7" height="78.8" fill="#dcdcdc" stroke="#000" stroke-width="1.2"/>
<text x="185.8" y="566.7" font-size="8.8" text-anchor="middle" fill="#222" stroke="#222" stroke-width="0.22">C</text>
<text x="206.6" y="566.7" font-size="8.8" text-anchor="middle" fill="#222" stroke="#222" stroke-width="0.22">N</text>
<text x="227.2" y="566.7" font-size="8.8" text-anchor="middle" fill="#222" stroke="#222" stroke-width="0.22">V</text>
<text transform="translate(149.0 490.8) rotate(-90)" font-size="8.8" text-anchor="middle" fill="#222" stroke="#222" stroke-width="0.22">Fold Change</text>
<text x="207.2" y="416.8" font-size="8.8" font-style="italic" text-anchor="middle" fill="#222" stroke="#222" stroke-width="0.22">Tlr1</text>
<path d="M295.8 428.9 V553.3 H361.6" fill="none" stroke="#000" stroke-width="1.4"/>
<line x1="293.8" y1="553.3" x2="295.8" y2="553.3" stroke="#111" stroke-width="1"/>
<text x="293.0" y="556.5" font-size="9.2" text-anchor="end" fill="#222" stroke="#222" stroke-width="0.22">0.0</text>
<line x1="293.8" y1="511.8" x2="295.8" y2="511.8" stroke="#111" stroke-width="1"/>
<text x="293.0" y="515.0" font-size="9.2" text-anchor="end" fill="#222" stroke="#222" stroke-width="0.22">0.5</text>
<line x1="293.8" y1="470.4" x2="295.8" y2="470.4" stroke="#111" stroke-width="1"/>
<text x="293.0" y="473.6" font-size="9.2" text-anchor="end" fill="#222" stroke="#222" stroke-width="0.22">1.0</text>
<line x1="293.8" y1="428.9" x2="295.8" y2="428.9" stroke="#111" stroke-width="1"/>
<text x="293.0" y="432.1" font-size="9.2" text-anchor="end" fill="#222" stroke="#222" stroke-width="0.22">1.5</text>
<line x1="309.2" y1="463.9" x2="309.2" y2="470.4" stroke="#000" stroke-width="1.2"/>
<line x1="305.9" y1="463.9" x2="312.5" y2="463.9" stroke="#000" stroke-width="1.2"/>
<rect x="302.3" y="470.4" width="13.8" height="82.9" fill="#fff" stroke="#000" stroke-width="1.2"/>
<line x1="329.4" y1="528.8" x2="329.4" y2="533.2" stroke="#000" stroke-width="1.2"/>
<line x1="326.1" y1="528.8" x2="332.8" y2="528.8" stroke="#000" stroke-width="1.2"/>
<rect x="323.0" y="533.2" width="12.9" height="20.1" fill="#3c3c3c" stroke="#000" stroke-width="1.2"/>
<line x1="350.1" y1="516.9" x2="350.1" y2="524.9" stroke="#000" stroke-width="1.2"/>
<line x1="346.8" y1="516.9" x2="353.4" y2="516.9" stroke="#000" stroke-width="1.2"/>
<rect x="343.7" y="524.9" width="12.9" height="28.4" fill="#dcdcdc" stroke="#000" stroke-width="1.2"/>
<text x="308.3" y="566.7" font-size="8.8" text-anchor="middle" fill="#222" stroke="#222" stroke-width="0.22">C</text>
<text x="329" y="566.7" font-size="8.8" text-anchor="middle" fill="#222" stroke="#222" stroke-width="0.22">N</text>
<text x="349.7" y="566.7" font-size="8.8" text-anchor="middle" fill="#222" stroke="#222" stroke-width="0.22">V</text>
<text transform="translate(272.5 491.1) rotate(-90)" font-size="8.8" text-anchor="middle" fill="#222" stroke="#222" stroke-width="0.22">Fold Change</text>
<text x="331.5" y="416.8" font-size="8.8" font-style="italic" text-anchor="middle" fill="#222" stroke="#222" stroke-width="0.22">Tlr2</text>
<line x1="310.8" y1="443" x2="348.7" y2="443" stroke="#000" stroke-width="1.4"/>
<circle cx="329.2" cy="436" r="1.45" fill="#111"/>
<line x1="310.8" y1="455.6" x2="327.7" y2="455.6" stroke="#000" stroke-width="1.4"/>
<circle cx="319" cy="449.8" r="1.45" fill="#111"/>
<path d="M418.5 429.0 V553.0 H485.0" fill="none" stroke="#000" stroke-width="1.4"/>
<line x1="416.5" y1="553.0" x2="418.5" y2="553.0" stroke="#111" stroke-width="1"/>
<text x="415.7" y="556.2" font-size="9.2" text-anchor="end" fill="#222" stroke="#222" stroke-width="0.22">0.0</text>
<line x1="416.5" y1="511.7" x2="418.5" y2="511.7" stroke="#111" stroke-width="1"/>
<text x="415.7" y="514.9" font-size="9.2" text-anchor="end" fill="#222" stroke="#222" stroke-width="0.22">0.5</text>
<line x1="416.5" y1="470.3" x2="418.5" y2="470.3" stroke="#111" stroke-width="1"/>
<text x="415.7" y="473.5" font-size="9.2" text-anchor="end" fill="#222" stroke="#222" stroke-width="0.22">1.0</text>
<line x1="416.5" y1="429.0" x2="418.5" y2="429.0" stroke="#111" stroke-width="1"/>
<text x="415.7" y="432.2" font-size="9.2" text-anchor="end" fill="#222" stroke="#222" stroke-width="0.22">1.5</text>
<line x1="431.8" y1="463.6" x2="431.8" y2="470.3" stroke="#000" stroke-width="1.2"/>
<line x1="428.5" y1="463.6" x2="435.1" y2="463.6" stroke="#000" stroke-width="1.2"/>
<rect x="424.9" y="470.3" width="13.8" height="82.7" fill="#fff" stroke="#000" stroke-width="1.2"/>
<line x1="451.9" y1="480.5" x2="451.9" y2="489.6" stroke="#000" stroke-width="1.2"/>
<line x1="448.6" y1="480.5" x2="455.2" y2="480.5" stroke="#000" stroke-width="1.2"/>
<rect x="445.0" y="489.6" width="13.8" height="63.4" fill="#3c3c3c" stroke="#000" stroke-width="1.2"/>
<line x1="472.1" y1="483.4" x2="472.1" y2="496.2" stroke="#000" stroke-width="1.2"/>
<line x1="468.8" y1="483.4" x2="475.4" y2="483.4" stroke="#000" stroke-width="1.2"/>
<rect x="465.7" y="496.2" width="12.9" height="56.8" fill="#dcdcdc" stroke="#000" stroke-width="1.2"/>
<text x="431.8" y="566.7" font-size="8.8" text-anchor="middle" fill="#222" stroke="#222" stroke-width="0.22">C</text>
<text x="451.9" y="566.7" font-size="8.8" text-anchor="middle" fill="#222" stroke="#222" stroke-width="0.22">N</text>
<text x="472.6" y="566.7" font-size="8.8" text-anchor="middle" fill="#222" stroke="#222" stroke-width="0.22">V</text>
<text transform="translate(394.5 491.0) rotate(-90)" font-size="8.8" text-anchor="middle" fill="#222" stroke="#222" stroke-width="0.22">Fold Change</text>
<text x="452.5" y="416.8" font-size="8.8" font-style="italic" text-anchor="middle" fill="#222" stroke="#222" stroke-width="0.22">Tlr4</text>
</svg></body></html>
